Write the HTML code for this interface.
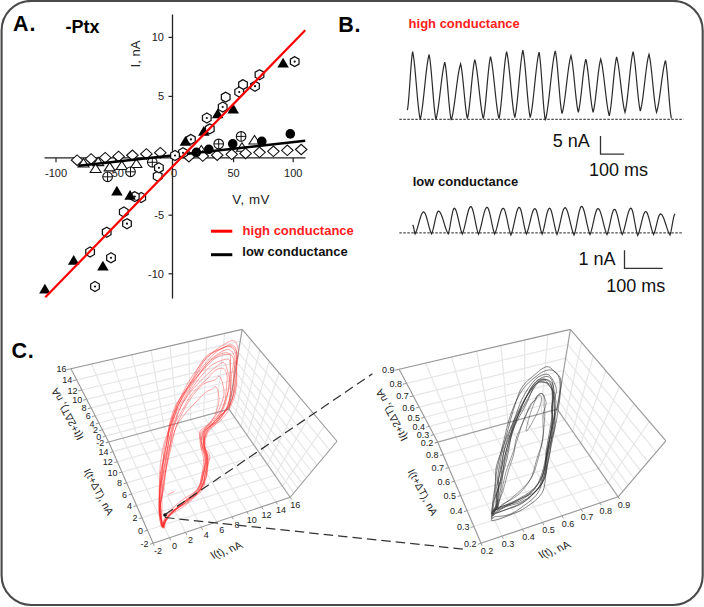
<!DOCTYPE html>
<html><head><meta charset="utf-8"><style>
html,body{margin:0;padding:0;background:#fff;}
svg{display:block;font-family:"Liberation Sans", sans-serif;}
</style></head><body>
<svg width="704" height="607" viewBox="0 0 704 607">
<rect x="1.6" y="0.9" width="701.1" height="604.1" rx="29.5" ry="29.5" fill="#fff" stroke="#4a4a4a" stroke-width="2.1"/>
<text x="13.1" y="30.8" font-size="21.5" font-weight="bold" letter-spacing="0.8">A.</text>
<text x="65.5" y="32.5" font-size="18" font-weight="bold">-Ptx</text>
<line x1="172.5" y1="14.5" x2="172.5" y2="298.5" stroke="#222" stroke-width="1.3"/>
<line x1="44.5" y1="157.9" x2="305.5" y2="157.9" stroke="#222" stroke-width="1.3"/>
<line x1="168.5" y1="37.4" x2="172.5" y2="37.4" stroke="#222" stroke-width="1.2"/>
<text x="164" y="41.199999999999996" font-size="11" text-anchor="end" fill="#222">10</text>
<line x1="168.5" y1="96.4" x2="172.5" y2="96.4" stroke="#222" stroke-width="1.2"/>
<text x="164" y="100.2" font-size="11" text-anchor="end" fill="#222">5</text>
<line x1="168.5" y1="215.2" x2="172.5" y2="215.2" stroke="#222" stroke-width="1.2"/>
<text x="164" y="219.0" font-size="11" text-anchor="end" fill="#222">-5</text>
<line x1="168.5" y1="273.8" x2="172.5" y2="273.8" stroke="#222" stroke-width="1.2"/>
<text x="164" y="277.6" font-size="11" text-anchor="end" fill="#222">-10</text>
<line x1="56" y1="157.9" x2="56" y2="162.2" stroke="#222" stroke-width="1.2"/>
<line x1="115.5" y1="157.9" x2="115.5" y2="162.2" stroke="#222" stroke-width="1.2"/>
<line x1="233.6" y1="157.9" x2="233.6" y2="162.2" stroke="#222" stroke-width="1.2"/>
<line x1="293.2" y1="157.9" x2="293.2" y2="162.2" stroke="#222" stroke-width="1.2"/>
<text x="56" y="177" font-size="11" text-anchor="middle" fill="#222">-100</text>
<text x="116" y="177" font-size="11" text-anchor="middle" fill="#222">-50</text>
<text x="174" y="177" font-size="11" text-anchor="middle" fill="#222">0</text>
<text x="233.6" y="177" font-size="11" text-anchor="middle" fill="#222">50</text>
<text x="293.2" y="177" font-size="11" text-anchor="middle" fill="#222">100</text>
<text transform="translate(140,54) rotate(-90)" font-size="13" text-anchor="middle" fill="#222">I, nA</text>
<text x="232.3" y="203.8" font-size="13.3" letter-spacing="0.55" fill="#222">V, mV</text>
<polygon points="71.35,160.20 77.10,154.95 82.85,160.20 77.10,165.45" fill="#fff" stroke="#111" stroke-width="1.1"/>
<polygon points="85.35,158.94 91.10,153.69 96.85,158.94 91.10,164.19" fill="#fff" stroke="#111" stroke-width="1.1"/>
<polygon points="99.45,157.67 105.20,152.42 110.95,157.67 105.20,162.92" fill="#fff" stroke="#111" stroke-width="1.1"/>
<polygon points="112.85,156.46 118.60,151.21 124.35,156.46 118.60,161.71" fill="#fff" stroke="#111" stroke-width="1.1"/>
<polygon points="126.65,155.22 132.40,149.97 138.15,155.22 132.40,160.47" fill="#fff" stroke="#111" stroke-width="1.1"/>
<polygon points="140.65,153.96 146.40,148.71 152.15,153.96 146.40,159.21" fill="#fff" stroke="#111" stroke-width="1.1"/>
<polygon points="154.55,152.71 160.30,147.46 166.05,152.71 160.30,157.96" fill="#fff" stroke="#111" stroke-width="1.1"/>
<polygon points="78.00,167.05 89.00,167.05 83.50,158.55" fill="#fff" stroke="#111" stroke-width="1.1"/>
<polygon points="92.70,165.65 103.70,165.65 98.20,157.15" fill="#fff" stroke="#111" stroke-width="1.1"/>
<polygon points="90.10,172.55 101.10,172.55 95.60,164.05" fill="#fff" stroke="#111" stroke-width="1.1"/>
<polygon points="104.20,170.85 115.20,170.85 109.70,162.35" fill="#fff" stroke="#111" stroke-width="1.1"/>
<polygon points="116.30,169.55 127.30,169.55 121.80,161.05" fill="#fff" stroke="#111" stroke-width="1.1"/>
<polygon points="130.90,167.45 141.90,167.45 136.40,158.95" fill="#fff" stroke="#111" stroke-width="1.1"/>
<polygon points="195.80,154.05 206.80,154.05 201.30,145.55" fill="#fff" stroke="#111" stroke-width="1.1"/>
<polygon points="249.00,144.05 260.00,144.05 254.50,135.55" fill="#fff" stroke="#111" stroke-width="1.1"/>
<polygon points="236.50,151.25 247.50,151.25 242.00,142.75" fill="#fff" stroke="#111" stroke-width="1.1"/>
<polygon points="183.15,156.70 188.90,151.45 194.65,156.70 188.90,161.95" fill="#fff" stroke="#111" stroke-width="1.1"/>
<polygon points="197.05,156.10 202.80,150.85 208.55,156.10 202.80,161.35" fill="#fff" stroke="#111" stroke-width="1.1"/>
<polygon points="211.45,155.20 217.20,149.95 222.95,155.20 217.20,160.45" fill="#fff" stroke="#111" stroke-width="1.1"/>
<polygon points="225.95,154.30 231.70,149.05 237.45,154.30 231.70,159.55" fill="#fff" stroke="#111" stroke-width="1.1"/>
<polygon points="239.85,153.40 245.60,148.15 251.35,153.40 245.60,158.65" fill="#fff" stroke="#111" stroke-width="1.1"/>
<polygon points="253.75,152.30 259.50,147.05 265.25,152.30 259.50,157.55" fill="#fff" stroke="#111" stroke-width="1.1"/>
<polygon points="267.65,151.30 273.40,146.05 279.15,151.30 273.40,156.55" fill="#fff" stroke="#111" stroke-width="1.1"/>
<polygon points="281.55,150.30 287.30,145.05 293.05,150.30 287.30,155.55" fill="#fff" stroke="#111" stroke-width="1.1"/>
<polygon points="295.45,149.50 301.20,144.25 306.95,149.50 301.20,154.75" fill="#fff" stroke="#111" stroke-width="1.1"/>
<circle cx="107.6" cy="176.8" r="4.8" fill="#fff" stroke="#111" stroke-width="1.1"/><line x1="102.8" y1="176.8" x2="112.39999999999999" y2="176.8" stroke="#111" stroke-width="1"/><line x1="107.6" y1="172.0" x2="107.6" y2="181.60000000000002" stroke="#111" stroke-width="1"/>
<circle cx="130.5" cy="171.8" r="4.8" fill="#fff" stroke="#111" stroke-width="1.1"/><line x1="125.7" y1="171.8" x2="135.3" y2="171.8" stroke="#111" stroke-width="1"/><line x1="130.5" y1="167.0" x2="130.5" y2="176.60000000000002" stroke="#111" stroke-width="1"/>
<circle cx="152.3" cy="162.3" r="4.8" fill="#fff" stroke="#111" stroke-width="1.1"/><line x1="147.5" y1="162.3" x2="157.10000000000002" y2="162.3" stroke="#111" stroke-width="1"/><line x1="152.3" y1="157.5" x2="152.3" y2="167.10000000000002" stroke="#111" stroke-width="1"/>
<circle cx="218.7" cy="143.9" r="4.8" fill="#fff" stroke="#111" stroke-width="1.1"/><line x1="213.89999999999998" y1="143.9" x2="223.5" y2="143.9" stroke="#111" stroke-width="1"/><line x1="218.7" y1="139.1" x2="218.7" y2="148.70000000000002" stroke="#111" stroke-width="1"/>
<circle cx="241.1" cy="136.4" r="4.8" fill="#fff" stroke="#111" stroke-width="1.1"/><line x1="236.29999999999998" y1="136.4" x2="245.9" y2="136.4" stroke="#111" stroke-width="1"/><line x1="241.1" y1="131.6" x2="241.1" y2="141.20000000000002" stroke="#111" stroke-width="1"/>
<circle cx="196.4" cy="152.3" r="4.8" fill="#000"/>
<circle cx="208.8" cy="149.3" r="4.8" fill="#000"/>
<circle cx="232.7" cy="143.9" r="4.8" fill="#000"/>
<circle cx="261.8" cy="141.4" r="4.8" fill="#000"/>
<circle cx="290.3" cy="133.9" r="4.8" fill="#000"/>
<line x1="78.8" y1="165.8" x2="305.2" y2="140.8" stroke="#000" stroke-width="2.4"/>
<polygon points="259.50,69.70 255.17,72.20 255.17,77.20 259.50,79.70 263.83,77.20 263.83,72.20" fill="#fff" stroke="#111" stroke-width="1.25"/>
<polygon points="243.00,79.60 238.67,82.10 238.67,87.10 243.00,89.60 247.33,87.10 247.33,82.10" fill="#fff" stroke="#111" stroke-width="1.25"/>
<polygon points="225.70,92.10 221.37,94.60 221.37,99.60 225.70,102.10 230.03,99.60 230.03,94.60" fill="#fff" stroke="#111" stroke-width="1.25"/>
<polygon points="209.80,123.90 205.47,126.40 205.47,131.40 209.80,133.90 214.13,131.40 214.13,126.40" fill="#fff" stroke="#111" stroke-width="1.25"/>
<polygon points="157.70,171.20 153.37,173.70 153.37,178.70 157.70,181.20 162.03,178.70 162.03,173.70" fill="#fff" stroke="#111" stroke-width="1.25"/>
<polygon points="141.20,192.50 136.87,195.00 136.87,200.00 141.20,202.50 145.53,200.00 145.53,195.00" fill="#fff" stroke="#111" stroke-width="1.25"/>
<polygon points="123.80,207.00 119.47,209.50 119.47,214.50 123.80,217.00 128.13,214.50 128.13,209.50" fill="#fff" stroke="#111" stroke-width="1.25"/>
<polygon points="106.70,227.20 102.37,229.70 102.37,234.70 106.70,237.20 111.03,234.70 111.03,229.70" fill="#fff" stroke="#111" stroke-width="1.25"/>
<polygon points="90.10,247.00 85.77,249.50 85.77,254.50 90.10,257.00 94.43,254.50 94.43,249.50" fill="#fff" stroke="#111" stroke-width="1.25"/>
<polygon points="294.70,56.60 290.37,59.10 290.37,64.10 294.70,66.60 299.03,64.10 299.03,59.10" fill="#fff" stroke="#111" stroke-width="1.25"/><circle cx="294.7" cy="61.6" r="1.1" fill="#111"/>
<polygon points="255.00,81.20 250.67,83.70 250.67,88.70 255.00,91.20 259.33,88.70 259.33,83.70" fill="#fff" stroke="#111" stroke-width="1.25"/><circle cx="255" cy="86.2" r="1.1" fill="#111"/>
<polygon points="239.20,87.00 234.87,89.50 234.87,94.50 239.20,97.00 243.53,94.50 243.53,89.50" fill="#fff" stroke="#111" stroke-width="1.25"/><circle cx="239.2" cy="92" r="1.1" fill="#111"/>
<polygon points="222.70,102.00 218.37,104.50 218.37,109.50 222.70,112.00 227.03,109.50 227.03,104.50" fill="#fff" stroke="#111" stroke-width="1.25"/><circle cx="222.7" cy="107" r="1.1" fill="#111"/>
<polygon points="206.80,113.00 202.47,115.50 202.47,120.50 206.80,123.00 211.13,120.50 211.13,115.50" fill="#fff" stroke="#111" stroke-width="1.25"/><circle cx="206.8" cy="118" r="1.1" fill="#111"/>
<polygon points="190.90,134.40 186.57,136.90 186.57,141.90 190.90,144.40 195.23,141.90 195.23,136.90" fill="#fff" stroke="#111" stroke-width="1.25"/><circle cx="190.9" cy="139.4" r="1.1" fill="#111"/>
<polygon points="183.00,147.80 178.67,150.30 178.67,155.30 183.00,157.80 187.33,155.30 187.33,150.30" fill="#fff" stroke="#111" stroke-width="1.25"/><circle cx="183" cy="152.8" r="1.1" fill="#111"/>
<polygon points="175.00,150.50 170.67,153.00 170.67,158.00 175.00,160.50 179.33,158.00 179.33,153.00" fill="#fff" stroke="#111" stroke-width="1.25"/><circle cx="175" cy="155.5" r="1.1" fill="#111"/>
<polygon points="158.90,162.80 154.57,165.30 154.57,170.30 158.90,172.80 163.23,170.30 163.23,165.30" fill="#fff" stroke="#111" stroke-width="1.25"/><circle cx="158.9" cy="167.8" r="1.1" fill="#111"/>
<polygon points="134.80,191.60 130.47,194.10 130.47,199.10 134.80,201.60 139.13,199.10 139.13,194.10" fill="#fff" stroke="#111" stroke-width="1.25"/><circle cx="134.8" cy="196.6" r="1.1" fill="#111"/>
<polygon points="127.00,218.70 122.67,221.20 122.67,226.20 127.00,228.70 131.33,226.20 131.33,221.20" fill="#fff" stroke="#111" stroke-width="1.25"/><circle cx="127" cy="223.7" r="1.1" fill="#111"/>
<polygon points="111.00,252.80 106.67,255.30 106.67,260.30 111.00,262.80 115.33,260.30 115.33,255.30" fill="#fff" stroke="#111" stroke-width="1.25"/><circle cx="111" cy="257.8" r="1.1" fill="#111"/>
<polygon points="95.00,281.50 90.67,284.00 90.67,289.00 95.00,291.50 99.33,289.00 99.33,284.00" fill="#fff" stroke="#111" stroke-width="1.25"/><circle cx="95" cy="286.5" r="1.1" fill="#111"/>
<polygon points="277.35,67.50 288.85,67.50 283.10,57.70" fill="#000"/>
<polygon points="227.45,113.40 238.95,113.40 233.20,103.60" fill="#000"/>
<polygon points="211.95,118.30 223.45,118.30 217.70,108.50" fill="#000"/>
<polygon points="198.05,135.80 209.55,135.80 203.80,126.00" fill="#000"/>
<polygon points="179.65,145.80 191.15,145.80 185.40,136.00" fill="#000"/>
<polygon points="111.15,195.60 122.65,195.60 116.90,185.80" fill="#000"/>
<polygon points="124.35,199.80 135.85,199.80 130.10,190.00" fill="#000"/>
<polygon points="67.95,264.80 79.45,264.80 73.70,255.00" fill="#000"/>
<polygon points="97.15,270.60 108.65,270.60 102.90,260.80" fill="#000"/>
<polygon points="39.15,293.60 50.65,293.60 44.90,283.80" fill="#000"/>
<line x1="45.3" y1="297.2" x2="305.2" y2="30.3" stroke="#ff0000" stroke-width="2.2"/>
<line x1="211" y1="231.2" x2="232.3" y2="231.2" stroke="#ff0000" stroke-width="3"/>
<text x="242.6" y="235.2" font-size="13" font-weight="bold" fill="#ff2020">high conductance</text>
<line x1="211" y1="254.7" x2="232.3" y2="254.7" stroke="#000" stroke-width="3"/>
<text x="242.3" y="256.3" font-size="13" font-weight="bold" fill="#111">low conductance</text>
<text x="338.2" y="31.8" font-size="21.5" font-weight="bold" letter-spacing="0.8">B.</text>
<text x="408.6" y="28.4" font-size="13" font-weight="bold" fill="#ff2020">high conductance</text>
<text x="412.7" y="186.4" font-size="13" font-weight="bold" fill="#111">low conductance</text>
<line x1="399.3" y1="119.3" x2="683.5" y2="119.3" stroke="#222" stroke-width="1" stroke-dasharray="2.5,1.5"/>
<path d="M407.40,110.20 L407.92,106.77 L408.44,101.85 L408.96,95.65 L409.48,88.52 L410.00,80.90 L410.52,73.28 L411.04,66.15 L411.56,59.95 L412.08,55.03 L412.60,51.60 L413.11,54.04 L413.61,57.27 L414.12,61.25 L414.63,65.88 L415.13,71.06 L415.64,76.65 L416.15,82.49 L416.65,88.41 L417.16,94.25 L417.67,99.84 L418.17,105.02 L418.68,109.65 L419.19,113.63 L419.69,116.86 L420.20,119.30 L420.72,117.28 L421.25,114.67 L421.77,111.48 L422.29,107.79 L422.82,103.64 L423.34,99.13 L423.86,94.35 L424.39,89.40 L424.91,84.40 L425.44,79.45 L425.96,74.67 L426.48,70.16 L427.01,66.01 L427.53,62.32 L428.05,59.13 L428.58,56.52 L429.10,54.50 L429.62,57.26 L430.15,61.03 L430.67,65.71 L431.19,71.17 L431.72,77.22 L432.24,83.63 L432.76,90.17 L433.28,96.58 L433.81,102.63 L434.33,108.09 L434.85,112.77 L435.38,116.54 L435.90,119.30 L436.42,117.52 L436.95,115.22 L437.47,112.41 L437.99,109.16 L438.52,105.50 L439.04,101.53 L439.56,97.31 L440.09,92.95 L440.61,88.55 L441.14,84.19 L441.66,79.97 L442.18,76.00 L442.71,72.34 L443.23,69.09 L443.75,66.28 L444.28,63.98 L444.80,62.20 L445.33,64.91 L445.87,68.68 L446.40,73.38 L446.93,78.85 L447.47,84.86 L448.00,91.15 L448.53,97.44 L449.07,103.45 L449.60,108.92 L450.13,113.62 L450.67,117.39 L451.20,120.10 L451.72,118.46 L452.24,116.36 L452.77,113.81 L453.29,110.86 L453.81,107.55 L454.33,103.94 L454.86,100.10 L455.38,96.09 L455.90,92.00 L456.42,87.91 L456.94,83.90 L457.47,80.06 L457.99,76.45 L458.51,73.14 L459.03,70.19 L459.56,67.64 L460.08,65.54 L460.60,63.90 L461.12,66.23 L461.65,69.42 L462.17,73.38 L462.69,78.00 L463.22,83.11 L463.74,88.54 L464.26,94.06 L464.78,99.49 L465.31,104.60 L465.83,109.22 L466.35,113.18 L466.88,116.37 L467.40,118.70 L467.93,116.39 L468.46,113.29 L468.99,109.46 L469.51,104.98 L470.04,100.00 L470.57,94.67 L471.10,89.15 L471.63,83.63 L472.16,78.30 L472.69,73.32 L473.21,68.84 L473.74,65.01 L474.27,61.91 L474.80,59.60 L475.30,61.44 L475.80,63.83 L476.30,66.73 L476.80,70.10 L477.30,73.88 L477.80,77.99 L478.30,82.36 L478.80,86.87 L479.30,91.43 L479.80,95.94 L480.30,100.31 L480.80,104.42 L481.30,108.20 L481.80,111.57 L482.30,114.47 L482.80,116.86 L483.30,118.70 L483.81,116.28 L484.33,113.03 L484.84,109.00 L485.36,104.31 L485.87,99.08 L486.39,93.49 L486.90,87.70 L487.41,81.91 L487.93,76.32 L488.44,71.09 L488.96,66.40 L489.47,62.37 L489.99,59.12 L490.50,56.70 L491.00,58.63 L491.50,61.13 L492.00,64.18 L492.50,67.71 L493.00,71.68 L493.50,76.00 L494.00,80.57 L494.50,85.31 L495.00,90.09 L495.50,94.83 L496.00,99.40 L496.50,103.72 L497.00,107.69 L497.50,111.22 L498.00,114.27 L498.50,116.77 L499.00,118.70 L499.51,116.28 L500.01,113.08 L500.52,109.14 L501.03,104.54 L501.53,99.41 L502.04,93.87 L502.55,88.09 L503.05,82.21 L503.56,76.43 L504.07,70.89 L504.57,65.76 L505.08,61.16 L505.59,57.22 L506.09,54.02 L506.60,51.60 L507.11,53.81 L507.62,56.70 L508.14,60.24 L508.65,64.36 L509.16,68.97 L509.68,73.98 L510.19,79.24 L510.70,84.65 L511.21,90.06 L511.72,95.32 L512.24,100.33 L512.75,104.94 L513.26,109.06 L513.77,112.60 L514.29,115.49 L514.80,117.70 L515.31,115.44 L515.81,112.49 L516.32,108.88 L516.82,104.67 L517.33,99.96 L517.84,94.85 L518.34,89.47 L518.85,83.95 L519.36,78.43 L519.86,73.05 L520.37,67.94 L520.88,63.23 L521.38,59.02 L521.89,55.41 L522.39,52.46 L522.90,50.20 L523.42,52.84 L523.94,56.38 L524.46,60.76 L524.99,65.87 L525.51,71.56 L526.03,77.65 L526.55,83.95 L527.07,90.25 L527.59,96.34 L528.11,102.03 L528.64,107.14 L529.16,111.52 L529.68,115.06 L530.20,117.70 L530.72,115.66 L531.25,113.01 L531.77,109.79 L532.29,106.05 L532.82,101.85 L533.34,97.28 L533.86,92.44 L534.39,87.43 L534.91,82.37 L535.44,77.36 L535.96,72.52 L536.48,67.95 L537.01,63.75 L537.53,60.01 L538.05,56.79 L538.58,54.14 L539.10,52.10 L539.62,55.30 L540.13,59.74 L540.65,65.29 L541.17,71.74 L541.68,78.83 L542.20,86.25 L542.72,93.67 L543.23,100.76 L543.75,107.21 L544.27,112.76 L544.78,117.20 L545.30,120.40 L545.80,118.60 L546.30,116.33 L546.80,113.62 L547.30,110.48 L547.80,106.96 L548.30,103.11 L548.80,98.99 L549.30,94.65 L549.80,90.16 L550.30,85.60 L550.80,81.04 L551.30,76.55 L551.80,72.21 L552.30,68.09 L552.80,64.24 L553.30,60.72 L553.80,57.58 L554.30,54.87 L554.80,52.60 L555.30,50.80 L555.82,53.48 L556.33,57.14 L556.85,61.68 L557.36,66.98 L557.88,72.85 L558.39,79.08 L558.91,85.42 L559.42,91.65 L559.94,97.52 L560.45,102.82 L560.97,107.36 L561.48,111.02 L562.00,113.70 L562.50,112.00 L563.00,109.83 L563.50,107.20 L564.00,104.15 L564.50,100.73 L565.00,97.00 L565.50,93.02 L566.00,88.88 L566.50,84.65 L567.00,80.42 L567.50,76.28 L568.00,72.30 L568.50,68.57 L569.00,65.15 L569.50,62.10 L570.00,59.47 L570.50,57.30 L571.00,55.60 L571.52,57.81 L572.04,60.79 L572.56,64.47 L573.09,68.76 L573.61,73.54 L574.13,78.66 L574.65,83.95 L575.17,89.24 L575.69,94.36 L576.21,99.14 L576.74,103.43 L577.26,107.11 L577.78,110.09 L578.30,112.30 L578.80,110.38 L579.30,107.84 L579.80,104.72 L580.30,101.08 L580.80,97.00 L581.30,92.61 L581.80,88.03 L582.30,83.37 L582.80,78.79 L583.30,74.40 L583.80,70.32 L584.30,66.68 L584.80,63.56 L585.30,61.02 L585.80,59.10 L586.32,61.18 L586.84,63.97 L587.36,67.42 L587.89,71.45 L588.41,75.93 L588.93,80.73 L589.45,85.70 L589.97,90.67 L590.49,95.47 L591.01,99.95 L591.54,103.98 L592.06,107.43 L592.58,110.22 L593.10,112.30 L593.61,110.38 L594.11,107.84 L594.62,104.72 L595.13,101.08 L595.63,97.00 L596.14,92.61 L596.65,88.03 L597.15,83.37 L597.66,78.79 L598.17,74.40 L598.67,70.32 L599.18,66.68 L599.69,63.56 L600.19,61.02 L600.70,59.10 L601.21,60.87 L601.71,63.15 L602.22,65.94 L602.72,69.17 L603.23,72.80 L603.74,76.75 L604.24,80.93 L604.75,85.26 L605.25,89.64 L605.76,93.97 L606.26,98.15 L606.77,102.10 L607.28,105.73 L607.78,108.96 L608.29,111.75 L608.79,114.03 L609.30,115.80 L609.82,113.50 L610.34,110.42 L610.86,106.60 L611.39,102.15 L611.91,97.20 L612.43,91.89 L612.95,86.40 L613.47,80.91 L613.99,75.60 L614.51,70.65 L615.04,66.20 L615.56,62.38 L616.08,59.30 L616.60,57.00 L617.12,58.85 L617.65,61.27 L618.18,64.23 L618.70,67.68 L619.23,71.54 L619.75,75.72 L620.27,80.13 L620.80,84.65 L621.33,89.17 L621.85,93.58 L622.38,97.76 L622.90,101.62 L623.42,105.07 L623.95,108.03 L624.48,110.45 L625.00,112.30 L625.51,110.27 L626.01,107.61 L626.52,104.37 L627.02,100.58 L627.53,96.35 L628.04,91.75 L628.54,86.91 L629.05,81.95 L629.56,76.99 L630.06,72.15 L630.57,67.55 L631.08,63.32 L631.58,59.53 L632.09,56.29 L632.59,53.63 L633.10,51.60 L633.61,53.92 L634.13,57.04 L634.64,60.89 L635.16,65.39 L635.67,70.39 L636.19,75.76 L636.70,81.30 L637.21,86.84 L637.73,92.21 L638.24,97.21 L638.76,101.71 L639.27,105.56 L639.79,108.68 L640.30,111.00 L640.81,109.23 L641.32,106.95 L641.84,104.16 L642.35,100.93 L642.86,97.30 L643.37,93.35 L643.88,89.17 L644.39,84.84 L644.91,80.46 L645.42,76.13 L645.93,71.95 L646.44,68.00 L646.95,64.37 L647.46,61.14 L647.98,58.35 L648.49,56.07 L649.00,54.30 L649.50,56.39 L650.00,59.16 L650.50,62.57 L651.00,66.54 L651.50,70.97 L652.00,75.76 L652.50,80.76 L653.00,85.84 L653.50,90.84 L654.00,95.62 L654.50,100.06 L655.00,104.03 L655.50,107.44 L656.00,110.21 L656.50,112.30 L657.00,110.79 L657.50,108.85 L658.00,106.51 L658.50,103.79 L659.00,100.74 L659.50,97.41 L660.00,93.86 L660.50,90.17 L661.00,86.40 L661.50,82.63 L662.00,78.94 L662.50,75.39 L663.00,72.06 L663.50,69.01 L664.00,66.29 L664.50,63.95 L665.00,62.01 L665.50,60.50 L666.04,63.52 L666.57,67.78 L667.11,73.12 L667.65,79.32 L668.18,86.04 L668.72,92.96 L669.25,99.68 L669.79,105.88 L670.33,111.22 L670.86,115.48 L671.40,118.50" fill="none" stroke="#2a2a2a" stroke-width="1.2"/>
<line x1="399.3" y1="232.9" x2="682" y2="232.9" stroke="#222" stroke-width="1" stroke-dasharray="2.5,1.5"/>
<path d="M412.60,224.80 L413.10,225.50 L413.60,227.38 L414.10,229.87 L414.60,232.25 L415.10,233.90 L415.60,232.98 L416.10,231.85 L416.60,230.52 L417.10,229.02 L417.60,227.38 L418.10,225.65 L418.60,223.85 L419.10,222.03 L419.60,220.25 L420.10,218.54 L420.60,216.95 L421.10,215.53 L421.60,214.31 L422.10,213.32 L422.60,212.59 L423.10,212.15 L423.60,212.00 L424.10,212.17 L424.60,212.67 L425.10,213.48 L425.60,214.59 L426.10,215.95 L426.60,217.53 L427.10,219.28 L427.60,221.14 L428.10,223.05 L428.60,224.98 L429.10,226.85 L429.60,228.62 L430.10,230.25 L430.60,231.69 L431.10,232.92 L431.60,233.90 L432.13,232.61 L432.66,230.95 L433.19,228.97 L433.72,226.74 L434.25,224.35 L434.78,221.89 L435.32,219.47 L435.85,217.20 L436.38,215.18 L436.91,213.50 L437.44,212.24 L437.97,211.46 L438.50,211.20 L439.01,211.32 L439.52,211.69 L440.03,212.30 L440.54,213.13 L441.05,214.16 L441.56,215.38 L442.07,216.75 L442.58,218.25 L443.09,219.85 L443.61,221.50 L444.12,223.18 L444.63,224.86 L445.14,226.49 L445.65,228.05 L446.16,229.52 L446.67,230.85 L447.18,232.04 L447.69,233.06 L448.20,233.90 L448.71,232.30 L449.22,230.22 L449.73,227.73 L450.23,224.94 L450.74,221.97 L451.25,218.98 L451.76,216.11 L452.27,213.51 L452.77,211.33 L453.28,209.68 L453.79,208.65 L454.30,208.30 L454.80,208.50 L455.30,209.08 L455.80,210.04 L456.30,211.33 L456.80,212.92 L457.30,214.77 L457.80,216.81 L458.30,218.98 L458.80,221.22 L459.30,223.47 L459.80,225.66 L460.30,227.73 L460.80,229.63 L461.30,231.32 L461.80,232.75 L462.30,233.90 L462.80,232.75 L463.30,231.34 L463.80,229.68 L464.30,227.82 L464.80,225.78 L465.30,223.61 L465.80,221.37 L466.30,219.11 L466.80,216.88 L467.30,214.75 L467.80,212.78 L468.30,211.00 L468.80,209.47 L469.30,208.24 L469.80,207.34 L470.30,206.79 L470.80,206.60 L471.31,206.84 L471.83,207.56 L472.34,208.72 L472.85,210.29 L473.37,212.22 L473.88,214.43 L474.39,216.85 L474.91,219.40 L475.42,221.99 L475.93,224.54 L476.45,226.97 L476.96,229.21 L477.47,231.19 L477.99,232.87 L478.50,234.20 L479.00,233.07 L479.50,231.68 L480.00,230.05 L480.50,228.21 L481.00,226.20 L481.50,224.06 L482.00,221.85 L482.50,219.63 L483.00,217.43 L483.50,215.33 L484.00,213.38 L484.50,211.63 L485.00,210.13 L485.50,208.92 L486.00,208.03 L486.50,207.48 L487.00,207.30 L487.51,207.53 L488.03,208.22 L488.54,209.34 L489.05,210.86 L489.57,212.72 L490.08,214.85 L490.59,217.18 L491.11,219.63 L491.62,222.13 L492.13,224.59 L492.65,226.93 L493.16,229.09 L493.67,231.00 L494.19,232.61 L494.70,233.90 L495.20,232.82 L495.70,231.50 L496.20,229.95 L496.70,228.20 L497.20,226.28 L497.70,224.25 L498.20,222.15 L498.70,220.03 L499.20,217.94 L499.70,215.95 L500.20,214.09 L500.70,212.43 L501.20,211.00 L501.70,209.84 L502.20,208.99 L502.70,208.47 L503.20,208.30 L503.71,208.53 L504.23,209.23 L504.74,210.35 L505.25,211.87 L505.77,213.74 L506.28,215.87 L506.79,218.22 L507.31,220.68 L507.82,223.19 L508.33,225.66 L508.85,228.01 L509.36,230.17 L509.87,232.09 L510.39,233.71 L510.90,235.00 L511.42,233.76 L511.94,232.22 L512.46,230.40 L512.98,228.35 L513.49,226.12 L514.01,223.76 L514.53,221.33 L515.05,218.91 L515.57,216.57 L516.09,214.37 L516.61,212.38 L517.12,210.67 L517.64,209.27 L518.16,208.24 L518.68,207.61 L519.20,207.40 L519.71,207.67 L520.23,208.46 L520.74,209.74 L521.26,211.46 L521.77,213.55 L522.29,215.93 L522.80,218.50 L523.31,221.16 L523.83,223.82 L524.34,226.38 L524.86,228.74 L525.37,230.84 L525.89,232.61 L526.40,234.00 L526.90,232.93 L527.40,231.62 L527.90,230.08 L528.40,228.34 L528.90,226.44 L529.40,224.43 L529.90,222.34 L530.40,220.24 L530.90,218.17 L531.40,216.19 L531.90,214.35 L532.40,212.69 L532.90,211.27 L533.40,210.13 L533.90,209.29 L534.40,208.77 L534.90,208.60 L535.41,208.85 L535.93,209.61 L536.44,210.83 L536.96,212.48 L537.47,214.47 L537.99,216.74 L538.50,219.20 L539.01,221.74 L539.53,224.28 L540.04,226.72 L540.56,228.98 L541.07,230.98 L541.59,232.67 L542.10,234.00 L542.63,232.65 L543.16,230.94 L543.69,228.90 L544.21,226.61 L544.74,224.13 L545.27,221.55 L545.80,218.96 L546.33,216.47 L546.86,214.16 L547.39,212.14 L547.91,210.47 L548.44,209.23 L548.97,208.46 L549.50,208.20 L550.00,208.43 L550.50,209.11 L551.00,210.21 L551.50,211.69 L552.00,213.51 L552.50,215.60 L553.00,217.89 L553.50,220.30 L554.00,222.75 L554.50,225.16 L555.00,227.46 L555.50,229.58 L556.00,231.45 L556.50,233.04 L557.00,234.30 L557.50,233.10 L558.00,231.62 L558.50,229.87 L559.00,227.89 L559.50,225.74 L560.00,223.46 L560.50,221.13 L561.00,218.80 L561.50,216.54 L562.00,214.42 L562.50,212.50 L563.00,210.85 L563.50,209.50 L564.00,208.51 L564.50,207.90 L565.00,207.70 L565.50,207.87 L566.00,208.36 L566.50,209.17 L567.00,210.27 L567.50,211.65 L568.00,213.26 L568.50,215.06 L569.00,217.02 L569.50,219.09 L570.00,221.21 L570.50,223.35 L571.00,225.44 L571.50,227.46 L572.00,229.35 L572.50,231.08 L573.00,232.61 L573.50,233.92 L574.00,235.00 L574.51,233.62 L575.01,231.88 L575.52,229.83 L576.03,227.51 L576.53,224.99 L577.04,222.35 L577.55,219.66 L578.05,217.02 L578.56,214.51 L579.07,212.22 L579.57,210.23 L580.08,208.60 L580.59,207.39 L581.09,206.65 L581.60,206.40 L582.12,206.62 L582.65,207.26 L583.18,208.30 L583.70,209.72 L584.23,211.47 L584.75,213.50 L585.27,215.74 L585.80,218.12 L586.33,220.58 L586.85,223.05 L587.38,225.45 L587.90,227.73 L588.42,229.82 L588.95,231.67 L589.48,233.24 L590.00,234.50 L590.50,233.34 L591.00,231.89 L591.50,230.18 L592.00,228.26 L592.50,226.16 L593.00,223.95 L593.50,221.67 L594.00,219.40 L594.50,217.21 L595.00,215.14 L595.50,213.28 L596.00,211.66 L596.50,210.36 L597.00,209.39 L597.50,208.80 L598.00,208.60 L598.50,208.76 L599.00,209.23 L599.50,209.99 L600.00,211.04 L600.50,212.35 L601.00,213.87 L601.50,215.59 L602.00,217.44 L602.50,219.40 L603.00,221.42 L603.50,223.45 L604.00,225.44 L604.50,227.35 L605.00,229.14 L605.50,230.78 L606.00,232.23 L606.50,233.48 L607.00,234.50 L607.50,233.28 L608.00,231.75 L608.50,229.94 L609.00,227.90 L609.50,225.68 L610.00,223.35 L610.50,220.99 L611.00,218.66 L611.50,216.45 L612.00,214.43 L612.50,212.67 L613.00,211.24 L613.50,210.17 L614.00,209.52 L614.50,209.30 L615.02,209.52 L615.54,210.17 L616.06,211.24 L616.58,212.67 L617.10,214.43 L617.62,216.45 L618.14,218.66 L618.66,220.99 L619.18,223.35 L619.70,225.68 L620.22,227.90 L620.74,229.94 L621.26,231.75 L621.78,233.28 L622.30,234.50 L622.81,233.39 L623.31,232.03 L623.82,230.44 L624.32,228.64 L624.83,226.68 L625.34,224.59 L625.84,222.43 L626.35,220.25 L626.85,218.11 L627.36,216.06 L627.86,214.15 L628.37,212.44 L628.88,210.97 L629.38,209.78 L629.89,208.91 L630.39,208.38 L630.90,208.20 L631.42,208.52 L631.95,209.46 L632.47,210.97 L632.99,212.99 L633.52,215.42 L634.04,218.15 L634.56,221.06 L635.08,224.01 L635.61,226.89 L636.13,229.57 L636.65,231.95 L637.18,233.95 L637.70,235.50 L638.20,234.43 L638.70,233.09 L639.20,231.52 L639.70,229.74 L640.20,227.81 L640.70,225.76 L641.20,223.66 L641.70,221.57 L642.20,219.54 L642.70,217.64 L643.20,215.92 L643.70,214.43 L644.20,213.22 L644.70,212.33 L645.20,211.78 L645.70,211.60 L646.23,211.80 L646.75,212.39 L647.28,213.36 L647.81,214.66 L648.33,216.26 L648.86,218.10 L649.39,220.10 L649.91,222.22 L650.44,224.37 L650.97,226.48 L651.49,228.50 L652.02,230.36 L652.55,232.00 L653.07,233.39 L653.60,234.50 L654.13,233.33 L654.66,231.82 L655.19,230.02 L655.72,228.00 L656.25,225.83 L656.78,223.60 L657.32,221.41 L657.85,219.35 L658.38,217.51 L658.91,215.99 L659.44,214.85 L659.97,214.14 L660.50,213.90 L661.00,214.02 L661.50,214.36 L662.00,214.92 L662.50,215.69 L663.00,216.65 L663.50,217.79 L664.00,219.06 L664.50,220.46 L665.00,221.94 L665.50,223.48 L666.00,225.04 L666.50,226.60 L667.00,228.12 L667.50,229.57 L668.00,230.92 L668.50,232.17 L669.00,233.27 L669.50,234.22 L670.00,235.00 L670.52,233.37 L671.04,231.18 L671.56,228.56 L672.08,225.67 L672.60,222.70 L673.12,219.89 L673.64,217.43 L674.16,215.52 L674.68,214.31 L675.20,213.90" fill="none" stroke="#2a2a2a" stroke-width="1.2"/>
<text x="552.8" y="147" font-size="18" fill="#111">5 nA</text>
<path d="M600.5,136 V154.1 H624.1" fill="none" stroke="#333" stroke-width="1.3"/>
<text x="588.9" y="176.2" font-size="18" fill="#111">100 ms</text>
<text x="578.4" y="265" font-size="18" fill="#111">1 nA</text>
<path d="M624.5,250.2 V268.4 H662.7" fill="none" stroke="#333" stroke-width="1.3"/>
<text x="606.2" y="291.8" font-size="18" fill="#111">100 ms</text>
<text x="11.4" y="358" font-size="21.5" font-weight="bold" letter-spacing="0.8">C.</text>
<line x1="122.85" y1="438.09" x2="91.62" y2="363.97" stroke="#e6e6e6" stroke-width="1.15"/>
<line x1="105.65" y1="436.10" x2="230.02" y2="402.51" stroke="#e6e6e6" stroke-width="1.15"/>
<line x1="169.46" y1="537.75" x2="122.85" y2="438.09" stroke="#e6e6e6" stroke-width="1.15"/>
<line x1="147.43" y1="530.20" x2="282.37" y2="486.02" stroke="#e6e6e6" stroke-width="1.15"/>
<line x1="282.37" y1="486.02" x2="324.21" y2="426.13" stroke="#e6e6e6" stroke-width="1.15"/>
<line x1="293.78" y1="492.93" x2="230.02" y2="402.51" stroke="#e6e6e6" stroke-width="1.15"/>
<line x1="136.80" y1="434.27" x2="111.85" y2="359.32" stroke="#e6e6e6" stroke-width="1.15"/>
<line x1="102.41" y1="429.80" x2="231.18" y2="395.52" stroke="#e6e6e6" stroke-width="1.15"/>
<line x1="185.48" y1="532.37" x2="136.80" y2="434.27" stroke="#e6e6e6" stroke-width="1.15"/>
<line x1="141.93" y1="517.68" x2="274.85" y2="475.20" stroke="#e6e6e6" stroke-width="1.15"/>
<line x1="274.85" y1="475.20" x2="312.07" y2="411.81" stroke="#e6e6e6" stroke-width="1.15"/>
<line x1="297.68" y1="488.26" x2="231.18" y2="395.52" stroke="#e6e6e6" stroke-width="1.15"/>
<line x1="150.55" y1="430.51" x2="131.65" y2="354.76" stroke="#e6e6e6" stroke-width="1.15"/>
<line x1="98.93" y1="423.04" x2="232.42" y2="388.04" stroke="#e6e6e6" stroke-width="1.15"/>
<line x1="201.22" y1="527.09" x2="150.55" y2="430.51" stroke="#e6e6e6" stroke-width="1.15"/>
<line x1="136.64" y1="505.64" x2="267.60" y2="464.75" stroke="#e6e6e6" stroke-width="1.15"/>
<line x1="267.60" y1="464.75" x2="300.55" y2="398.21" stroke="#e6e6e6" stroke-width="1.15"/>
<line x1="301.91" y1="483.21" x2="232.42" y2="388.04" stroke="#e6e6e6" stroke-width="1.15"/>
<line x1="164.09" y1="426.80" x2="151.03" y2="350.30" stroke="#e6e6e6" stroke-width="1.15"/>
<line x1="95.17" y1="415.75" x2="233.76" y2="380.02" stroke="#e6e6e6" stroke-width="1.15"/>
<line x1="216.68" y1="521.90" x2="164.09" y2="426.80" stroke="#e6e6e6" stroke-width="1.15"/>
<line x1="131.55" y1="494.04" x2="260.60" y2="454.67" stroke="#e6e6e6" stroke-width="1.15"/>
<line x1="260.60" y1="454.67" x2="289.61" y2="385.30" stroke="#e6e6e6" stroke-width="1.15"/>
<line x1="306.50" y1="477.73" x2="233.76" y2="380.02" stroke="#e6e6e6" stroke-width="1.15"/>
<line x1="177.44" y1="423.15" x2="170.02" y2="345.94" stroke="#e6e6e6" stroke-width="1.15"/>
<line x1="91.11" y1="407.87" x2="235.19" y2="371.40" stroke="#e6e6e6" stroke-width="1.15"/>
<line x1="231.88" y1="516.80" x2="177.44" y2="423.15" stroke="#e6e6e6" stroke-width="1.15"/>
<line x1="126.64" y1="482.87" x2="253.83" y2="444.93" stroke="#e6e6e6" stroke-width="1.15"/>
<line x1="253.83" y1="444.93" x2="279.20" y2="373.02" stroke="#e6e6e6" stroke-width="1.15"/>
<line x1="311.51" y1="471.75" x2="235.19" y2="371.40" stroke="#e6e6e6" stroke-width="1.15"/>
<line x1="190.59" y1="419.55" x2="188.61" y2="341.66" stroke="#e6e6e6" stroke-width="1.15"/>
<line x1="86.71" y1="399.32" x2="236.73" y2="362.11" stroke="#e6e6e6" stroke-width="1.15"/>
<line x1="246.83" y1="511.79" x2="190.59" y2="419.55" stroke="#e6e6e6" stroke-width="1.15"/>
<line x1="121.91" y1="472.09" x2="247.29" y2="435.51" stroke="#e6e6e6" stroke-width="1.15"/>
<line x1="247.29" y1="435.51" x2="269.29" y2="361.32" stroke="#e6e6e6" stroke-width="1.15"/>
<line x1="316.98" y1="465.20" x2="236.73" y2="362.11" stroke="#e6e6e6" stroke-width="1.15"/>
<line x1="203.56" y1="416.00" x2="206.83" y2="337.47" stroke="#e6e6e6" stroke-width="1.15"/>
<line x1="81.92" y1="390.02" x2="238.40" y2="352.07" stroke="#e6e6e6" stroke-width="1.15"/>
<line x1="261.52" y1="506.86" x2="203.56" y2="416.00" stroke="#e6e6e6" stroke-width="1.15"/>
<line x1="117.34" y1="461.70" x2="240.97" y2="426.40" stroke="#e6e6e6" stroke-width="1.15"/>
<line x1="240.97" y1="426.40" x2="259.83" y2="350.16" stroke="#e6e6e6" stroke-width="1.15"/>
<line x1="323.00" y1="458.01" x2="238.40" y2="352.07" stroke="#e6e6e6" stroke-width="1.15"/>
<line x1="216.33" y1="412.51" x2="224.69" y2="333.36" stroke="#e6e6e6" stroke-width="1.15"/>
<line x1="76.69" y1="379.86" x2="240.21" y2="341.18" stroke="#e6e6e6" stroke-width="1.15"/>
<line x1="275.96" y1="502.01" x2="216.33" y2="412.51" stroke="#e6e6e6" stroke-width="1.15"/>
<line x1="112.94" y1="451.66" x2="234.85" y2="417.59" stroke="#e6e6e6" stroke-width="1.15"/>
<line x1="234.85" y1="417.59" x2="250.81" y2="339.51" stroke="#e6e6e6" stroke-width="1.15"/>
<line x1="329.65" y1="450.07" x2="240.21" y2="341.18" stroke="#e6e6e6" stroke-width="1.15"/>
<line x1="108.68" y1="441.97" x2="105.85" y2="442.74" stroke="#969696" stroke-width="1.0"/>
<line x1="153.15" y1="543.22" x2="149.89" y2="544.32" stroke="#969696" stroke-width="1.0"/>
<line x1="153.15" y1="543.22" x2="154.31" y2="545.86" stroke="#969696" stroke-width="1.0"/>
<line x1="105.65" y1="436.10" x2="102.72" y2="436.89" stroke="#969696" stroke-width="1.0"/>
<line x1="147.43" y1="530.20" x2="144.22" y2="531.25" stroke="#969696" stroke-width="1.0"/>
<line x1="169.46" y1="537.75" x2="170.67" y2="540.34" stroke="#969696" stroke-width="1.0"/>
<line x1="102.41" y1="429.80" x2="99.37" y2="430.61" stroke="#969696" stroke-width="1.0"/>
<line x1="141.93" y1="517.68" x2="138.78" y2="518.69" stroke="#969696" stroke-width="1.0"/>
<line x1="185.48" y1="532.37" x2="186.74" y2="534.92" stroke="#969696" stroke-width="1.0"/>
<line x1="98.93" y1="423.04" x2="95.76" y2="423.87" stroke="#969696" stroke-width="1.0"/>
<line x1="136.64" y1="505.64" x2="133.54" y2="506.61" stroke="#969696" stroke-width="1.0"/>
<line x1="201.22" y1="527.09" x2="202.53" y2="529.60" stroke="#969696" stroke-width="1.0"/>
<line x1="95.17" y1="415.75" x2="91.88" y2="416.60" stroke="#969696" stroke-width="1.0"/>
<line x1="131.55" y1="494.04" x2="128.49" y2="494.97" stroke="#969696" stroke-width="1.0"/>
<line x1="216.68" y1="521.90" x2="218.05" y2="524.37" stroke="#969696" stroke-width="1.0"/>
<line x1="91.11" y1="407.87" x2="87.68" y2="408.74" stroke="#969696" stroke-width="1.0"/>
<line x1="126.64" y1="482.87" x2="123.63" y2="483.76" stroke="#969696" stroke-width="1.0"/>
<line x1="231.88" y1="516.80" x2="233.29" y2="519.23" stroke="#969696" stroke-width="1.0"/>
<line x1="86.71" y1="399.32" x2="83.12" y2="400.21" stroke="#969696" stroke-width="1.0"/>
<line x1="121.91" y1="472.09" x2="118.95" y2="472.96" stroke="#969696" stroke-width="1.0"/>
<line x1="246.83" y1="511.79" x2="248.28" y2="514.17" stroke="#969696" stroke-width="1.0"/>
<line x1="81.92" y1="390.02" x2="78.16" y2="390.93" stroke="#969696" stroke-width="1.0"/>
<line x1="117.34" y1="461.70" x2="114.43" y2="462.53" stroke="#969696" stroke-width="1.0"/>
<line x1="261.52" y1="506.86" x2="263.01" y2="509.21" stroke="#969696" stroke-width="1.0"/>
<line x1="76.69" y1="379.86" x2="72.74" y2="380.79" stroke="#969696" stroke-width="1.0"/>
<line x1="112.94" y1="451.66" x2="110.06" y2="452.46" stroke="#969696" stroke-width="1.0"/>
<line x1="275.96" y1="502.01" x2="277.50" y2="504.32" stroke="#969696" stroke-width="1.0"/>
<line x1="70.95" y1="368.72" x2="66.80" y2="369.68" stroke="#969696" stroke-width="1.0"/>
<line x1="108.68" y1="441.97" x2="105.85" y2="442.74" stroke="#969696" stroke-width="1.0"/>
<line x1="290.16" y1="497.25" x2="291.74" y2="499.52" stroke="#969696" stroke-width="1.0"/>
<line x1="70.95" y1="368.72" x2="242.18" y2="329.34" stroke="#969696" stroke-width="1.1"/>
<line x1="70.95" y1="368.72" x2="108.68" y2="441.97" stroke="#969696" stroke-width="1.1"/>
<line x1="108.68" y1="441.97" x2="153.15" y2="543.22" stroke="#969696" stroke-width="1.1"/>
<line x1="153.15" y1="543.22" x2="290.16" y2="497.25" stroke="#969696" stroke-width="1.1"/>
<line x1="290.16" y1="497.25" x2="337.03" y2="441.25" stroke="#969696" stroke-width="1.1"/>
<line x1="337.03" y1="441.25" x2="242.18" y2="329.34" stroke="#969696" stroke-width="1.1"/>
<line x1="108.68" y1="441.97" x2="228.93" y2="409.06" stroke="#a0a0a0" stroke-width="1.2"/>
<line x1="228.93" y1="409.06" x2="290.16" y2="497.25" stroke="#a0a0a0" stroke-width="1.2"/>
<line x1="228.93" y1="409.06" x2="242.18" y2="329.34" stroke="#a0a0a0" stroke-width="1.2"/>
<line x1="455.81" y1="437.17" x2="425.65" y2="363.03" stroke="#e6e6e6" stroke-width="1.15"/>
<line x1="433.75" y1="434.61" x2="558.63" y2="400.68" stroke="#e6e6e6" stroke-width="1.15"/>
<line x1="501.98" y1="536.12" x2="455.81" y2="437.17" stroke="#e6e6e6" stroke-width="1.15"/>
<line x1="473.89" y1="526.50" x2="608.15" y2="482.47" stroke="#e6e6e6" stroke-width="1.15"/>
<line x1="608.15" y1="482.47" x2="649.27" y2="421.47" stroke="#e6e6e6" stroke-width="1.15"/>
<line x1="622.85" y1="491.26" x2="558.63" y2="400.68" stroke="#e6e6e6" stroke-width="1.15"/>
<line x1="473.52" y1="432.27" x2="451.44" y2="357.04" stroke="#e6e6e6" stroke-width="1.15"/>
<line x1="429.37" y1="426.33" x2="560.16" y2="391.46" stroke="#e6e6e6" stroke-width="1.15"/>
<line x1="522.44" y1="529.20" x2="473.52" y2="432.27" stroke="#e6e6e6" stroke-width="1.15"/>
<line x1="467.09" y1="510.65" x2="598.65" y2="468.80" stroke="#e6e6e6" stroke-width="1.15"/>
<line x1="598.65" y1="468.80" x2="633.83" y2="403.44" stroke="#e6e6e6" stroke-width="1.15"/>
<line x1="628.11" y1="485.10" x2="560.16" y2="391.46" stroke="#e6e6e6" stroke-width="1.15"/>
<line x1="490.90" y1="427.47" x2="476.53" y2="351.21" stroke="#e6e6e6" stroke-width="1.15"/>
<line x1="424.55" y1="417.22" x2="561.83" y2="381.38" stroke="#e6e6e6" stroke-width="1.15"/>
<line x1="542.43" y1="522.43" x2="490.90" y2="427.47" stroke="#e6e6e6" stroke-width="1.15"/>
<line x1="460.64" y1="495.58" x2="589.60" y2="455.76" stroke="#e6e6e6" stroke-width="1.15"/>
<line x1="589.60" y1="455.76" x2="619.43" y2="386.63" stroke="#e6e6e6" stroke-width="1.15"/>
<line x1="633.95" y1="478.25" x2="561.83" y2="381.38" stroke="#e6e6e6" stroke-width="1.15"/>
<line x1="507.96" y1="422.76" x2="500.95" y2="345.54" stroke="#e6e6e6" stroke-width="1.15"/>
<line x1="419.21" y1="407.13" x2="563.66" y2="370.30" stroke="#e6e6e6" stroke-width="1.15"/>
<line x1="561.98" y1="515.82" x2="507.96" y2="422.76" stroke="#e6e6e6" stroke-width="1.15"/>
<line x1="454.50" y1="481.25" x2="580.96" y2="443.31" stroke="#e6e6e6" stroke-width="1.15"/>
<line x1="580.96" y1="443.31" x2="605.98" y2="370.92" stroke="#e6e6e6" stroke-width="1.15"/>
<line x1="640.50" y1="470.58" x2="563.66" y2="370.30" stroke="#e6e6e6" stroke-width="1.15"/>
<line x1="524.69" y1="418.13" x2="524.72" y2="340.01" stroke="#e6e6e6" stroke-width="1.15"/>
<line x1="413.27" y1="395.91" x2="565.68" y2="358.08" stroke="#e6e6e6" stroke-width="1.15"/>
<line x1="581.10" y1="509.34" x2="524.69" y2="418.13" stroke="#e6e6e6" stroke-width="1.15"/>
<line x1="448.65" y1="467.60" x2="572.70" y2="431.42" stroke="#e6e6e6" stroke-width="1.15"/>
<line x1="572.70" y1="431.42" x2="593.37" y2="356.20" stroke="#e6e6e6" stroke-width="1.15"/>
<line x1="647.88" y1="461.94" x2="565.68" y2="358.08" stroke="#e6e6e6" stroke-width="1.15"/>
<line x1="541.11" y1="413.59" x2="547.87" y2="334.64" stroke="#e6e6e6" stroke-width="1.15"/>
<line x1="406.63" y1="383.35" x2="567.92" y2="344.52" stroke="#e6e6e6" stroke-width="1.15"/>
<line x1="599.81" y1="503.01" x2="541.11" y2="413.59" stroke="#e6e6e6" stroke-width="1.15"/>
<line x1="443.07" y1="454.59" x2="564.80" y2="420.04" stroke="#e6e6e6" stroke-width="1.15"/>
<line x1="564.80" y1="420.04" x2="581.55" y2="342.39" stroke="#e6e6e6" stroke-width="1.15"/>
<line x1="656.26" y1="452.12" x2="567.92" y2="344.52" stroke="#e6e6e6" stroke-width="1.15"/>
<line x1="437.74" y1="442.16" x2="434.93" y2="442.94" stroke="#969696" stroke-width="1.0"/>
<line x1="481.05" y1="543.21" x2="477.78" y2="544.31" stroke="#969696" stroke-width="1.0"/>
<line x1="481.05" y1="543.21" x2="482.18" y2="545.86" stroke="#969696" stroke-width="1.0"/>
<line x1="433.75" y1="434.61" x2="430.80" y2="435.41" stroke="#969696" stroke-width="1.0"/>
<line x1="473.89" y1="526.50" x2="470.69" y2="527.55" stroke="#969696" stroke-width="1.0"/>
<line x1="501.98" y1="536.12" x2="503.19" y2="538.72" stroke="#969696" stroke-width="1.0"/>
<line x1="429.37" y1="426.33" x2="426.27" y2="427.16" stroke="#969696" stroke-width="1.0"/>
<line x1="467.09" y1="510.65" x2="463.97" y2="511.64" stroke="#969696" stroke-width="1.0"/>
<line x1="522.44" y1="529.20" x2="523.71" y2="531.74" stroke="#969696" stroke-width="1.0"/>
<line x1="424.55" y1="417.22" x2="421.28" y2="418.07" stroke="#969696" stroke-width="1.0"/>
<line x1="460.64" y1="495.58" x2="457.58" y2="496.53" stroke="#969696" stroke-width="1.0"/>
<line x1="542.43" y1="522.43" x2="543.78" y2="524.91" stroke="#969696" stroke-width="1.0"/>
<line x1="419.21" y1="407.13" x2="415.76" y2="408.01" stroke="#969696" stroke-width="1.0"/>
<line x1="454.50" y1="481.25" x2="451.51" y2="482.15" stroke="#969696" stroke-width="1.0"/>
<line x1="561.98" y1="515.82" x2="563.39" y2="518.24" stroke="#969696" stroke-width="1.0"/>
<line x1="413.27" y1="395.91" x2="409.62" y2="396.82" stroke="#969696" stroke-width="1.0"/>
<line x1="448.65" y1="467.60" x2="445.72" y2="468.46" stroke="#969696" stroke-width="1.0"/>
<line x1="581.10" y1="509.34" x2="582.57" y2="511.72" stroke="#969696" stroke-width="1.0"/>
<line x1="406.63" y1="383.35" x2="402.74" y2="384.29" stroke="#969696" stroke-width="1.0"/>
<line x1="443.07" y1="454.59" x2="440.20" y2="455.40" stroke="#969696" stroke-width="1.0"/>
<line x1="599.81" y1="503.01" x2="601.33" y2="505.34" stroke="#969696" stroke-width="1.0"/>
<line x1="399.14" y1="369.19" x2="394.99" y2="370.16" stroke="#969696" stroke-width="1.0"/>
<line x1="437.74" y1="442.16" x2="434.93" y2="442.94" stroke="#969696" stroke-width="1.0"/>
<line x1="618.11" y1="496.82" x2="619.69" y2="499.09" stroke="#969696" stroke-width="1.0"/>
<line x1="399.14" y1="369.19" x2="570.42" y2="329.39" stroke="#969696" stroke-width="1.1"/>
<line x1="399.14" y1="369.19" x2="437.74" y2="442.16" stroke="#969696" stroke-width="1.1"/>
<line x1="437.74" y1="442.16" x2="481.05" y2="543.21" stroke="#969696" stroke-width="1.1"/>
<line x1="481.05" y1="543.21" x2="618.11" y2="496.82" stroke="#969696" stroke-width="1.1"/>
<line x1="618.11" y1="496.82" x2="665.87" y2="440.86" stroke="#969696" stroke-width="1.1"/>
<line x1="665.87" y1="440.86" x2="570.42" y2="329.39" stroke="#969696" stroke-width="1.1"/>
<line x1="437.74" y1="442.16" x2="557.24" y2="409.14" stroke="#a0a0a0" stroke-width="1.2"/>
<line x1="557.24" y1="409.14" x2="618.11" y2="496.82" stroke="#a0a0a0" stroke-width="1.2"/>
<line x1="557.24" y1="409.14" x2="570.42" y2="329.39" stroke="#a0a0a0" stroke-width="1.2"/>
<text x="66.4" y="372.2" font-size="9" text-anchor="end" fill="#222">16</text>
<text x="72.2" y="383.4" font-size="9" text-anchor="end" fill="#222">14</text>
<text x="77.4" y="393.5" font-size="9" text-anchor="end" fill="#222">12</text>
<text x="82.2" y="402.8" font-size="9" text-anchor="end" fill="#222">10</text>
<text x="86.6" y="411.4" font-size="9" text-anchor="end" fill="#222">8</text>
<text x="90.7" y="419.2" font-size="9" text-anchor="end" fill="#222">6</text>
<text x="94.4" y="426.5" font-size="9" text-anchor="end" fill="#222">4</text>
<text x="97.9" y="433.3" font-size="9" text-anchor="end" fill="#222">2</text>
<text x="101.2" y="439.6" font-size="9" text-anchor="end" fill="#222">0</text>
<text x="104.2" y="445.5" font-size="9" text-anchor="end" fill="#222">-2</text>
<text x="108.4" y="455.2" font-size="9" text-anchor="end" fill="#222">14</text>
<text x="112.8" y="465.2" font-size="9" text-anchor="end" fill="#222">12</text>
<text x="117.4" y="475.6" font-size="9" text-anchor="end" fill="#222">10</text>
<text x="122.1" y="486.4" font-size="9" text-anchor="end" fill="#222">8</text>
<text x="127.0" y="497.5" font-size="9" text-anchor="end" fill="#222">6</text>
<text x="132.1" y="509.1" font-size="9" text-anchor="end" fill="#222">4</text>
<text x="137.4" y="521.2" font-size="9" text-anchor="end" fill="#222">2</text>
<text x="142.9" y="533.7" font-size="9" text-anchor="end" fill="#222">0</text>
<text x="148.6" y="546.7" font-size="9" text-anchor="end" fill="#222">-2</text>
<text x="158.1" y="554.2" font-size="9" text-anchor="middle" fill="#222">-2</text>
<text x="174.5" y="548.7" font-size="9" text-anchor="middle" fill="#222">0</text>
<text x="190.5" y="543.4" font-size="9" text-anchor="middle" fill="#222">2</text>
<text x="206.2" y="538.1" font-size="9" text-anchor="middle" fill="#222">4</text>
<text x="221.7" y="532.9" font-size="9" text-anchor="middle" fill="#222">6</text>
<text x="236.9" y="527.8" font-size="9" text-anchor="middle" fill="#222">8</text>
<text x="251.8" y="522.8" font-size="9" text-anchor="middle" fill="#222">10</text>
<text x="266.5" y="517.9" font-size="9" text-anchor="middle" fill="#222">12</text>
<text x="281.0" y="513.0" font-size="9" text-anchor="middle" fill="#222">14</text>
<text x="295.2" y="508.2" font-size="9" text-anchor="middle" fill="#222">16</text>
<text x="394.6" y="372.7" font-size="9" text-anchor="end" fill="#222">0.9</text>
<text x="402.1" y="386.8" font-size="9" text-anchor="end" fill="#222">0.8</text>
<text x="408.8" y="399.4" font-size="9" text-anchor="end" fill="#222">0.7</text>
<text x="414.7" y="410.6" font-size="9" text-anchor="end" fill="#222">0.6</text>
<text x="420.0" y="420.7" font-size="9" text-anchor="end" fill="#222">0.5</text>
<text x="424.9" y="429.8" font-size="9" text-anchor="end" fill="#222">0.4</text>
<text x="429.2" y="438.1" font-size="9" text-anchor="end" fill="#222">0.3</text>
<text x="433.2" y="445.7" font-size="9" text-anchor="end" fill="#222">0.2</text>
<text x="438.6" y="458.1" font-size="9" text-anchor="end" fill="#222">0.8</text>
<text x="444.1" y="471.1" font-size="9" text-anchor="end" fill="#222">0.7</text>
<text x="450.0" y="484.8" font-size="9" text-anchor="end" fill="#222">0.6</text>
<text x="456.1" y="499.1" font-size="9" text-anchor="end" fill="#222">0.5</text>
<text x="462.6" y="514.1" font-size="9" text-anchor="end" fill="#222">0.4</text>
<text x="469.4" y="530.0" font-size="9" text-anchor="end" fill="#222">0.3</text>
<text x="476.5" y="546.7" font-size="9" text-anchor="end" fill="#222">0.2</text>
<text x="487.0" y="554.2" font-size="9" text-anchor="middle" fill="#222">0.2</text>
<text x="508.0" y="547.1" font-size="9" text-anchor="middle" fill="#222">0.3</text>
<text x="528.4" y="540.2" font-size="9" text-anchor="middle" fill="#222">0.4</text>
<text x="548.4" y="533.4" font-size="9" text-anchor="middle" fill="#222">0.5</text>
<text x="568.0" y="526.8" font-size="9" text-anchor="middle" fill="#222">0.6</text>
<text x="587.1" y="520.3" font-size="9" text-anchor="middle" fill="#222">0.7</text>
<text x="605.8" y="514.0" font-size="9" text-anchor="middle" fill="#222">0.8</text>
<text x="624.1" y="507.8" font-size="9" text-anchor="middle" fill="#222">0.9</text>
<text transform="translate(70.5,412.6) rotate(-117.5)" font-size="10.5" text-anchor="middle" fill="#222">I(t+2ΔT), nA</text>
<text transform="translate(95.5,493.5) rotate(62)" font-size="10.5" text-anchor="middle" fill="#222">I(t+ΔT), nA</text>
<text transform="translate(228.5,553.2) rotate(-21) skewX(14)" font-size="10.8" text-anchor="middle" fill="#222">I(t), nA</text>
<text transform="translate(394.9,413.4) rotate(-117.5)" font-size="10.5" text-anchor="middle" fill="#222">I(t+2ΔT), nA</text>
<text transform="translate(419.5,494.0) rotate(62)" font-size="10.5" text-anchor="middle" fill="#222">I(t+ΔT), nA</text>
<text transform="translate(556.5,552.8) rotate(-21) skewX(14)" font-size="10.8" text-anchor="middle" fill="#222">I(t), nA</text>
<path d="M161.6,527.1 L161.1,525.7 L160.6,523.4 L160.1,520.4 L159.6,517.1 L159.3,513.7 L159.1,510.3 L159.1,506.9 L159.3,503.3 L159.6,499.6 L160.0,495.8 L160.3,492.1 L160.4,488.7 L160.4,485.6 L160.2,482.7 L160.0,480.0 L159.8,477.2 L159.7,474.3 L159.8,471.0 L160.1,467.4 L160.5,463.4 L161.0,459.3 L161.7,455.2 L162.4,451.1 L163.2,447.2 L164.1,443.5 L165.2,439.9 L166.5,436.4 L167.7,432.9 L169.0,429.4 L170.2,425.9 L171.3,422.5 L172.3,419.1 L173.3,415.7 L174.4,412.3 L175.6,408.7 L177.1,404.9 L179.0,400.8 L181.0,396.5 L183.2,391.9 L185.6,387.4 L188.0,383.0 L190.5,379.0 L193.0,375.1 L195.6,371.3 L198.3,367.7 L201.1,364.2 L203.8,361.0 L206.5,358.1 L209.1,355.5 L211.8,353.1 L214.5,350.9 L217.2,349.0 L219.7,347.3 L222.1,345.7 L224.3,344.3 L226.5,343.0 L228.5,341.8 L230.4,341.0 L232.1,340.6 L233.6,340.7 L234.8,341.4 L235.9,342.6 L236.8,344.1 L237.5,346.0 L238.0,348.1 L238.4,350.3 L238.5,352.5 L238.3,355.0 L237.9,357.7 L237.5,360.5 L237.1,363.5 L236.8,366.6 L236.7,369.9 L236.7,373.4 L236.8,377.1 L236.8,380.9 L236.6,384.5 L236.2,387.9 L235.7,391.2 L234.9,394.4 L234.1,397.5 L233.1,400.5 L232.0,403.4 L230.7,406.1 L229.4,408.8 L227.9,411.2 L226.3,413.6 L224.5,415.9 L222.7,418.1 L220.7,420.3 L218.5,422.3 L215.9,424.2 L213.2,426.1 L210.6,427.9 L208.3,429.8 L206.6,431.9 L205.5,434.2 L204.9,436.6 L204.5,439.2 L204.5,441.7 L204.6,444.1 L204.8,446.3 L205.4,448.2 L206.3,449.8 L207.5,451.3 L208.6,452.9 L209.5,454.6 L209.8,456.8 L209.5,459.4 L208.7,462.5 L207.7,465.7 L206.6,469.0 L205.6,472.2 L204.8,475.2 L204.4,477.8 L204.3,480.4 L204.3,482.9 L204.2,485.3 L203.7,487.6 L202.6,489.8 L200.8,491.9 L198.5,493.9 L195.8,495.8 L193.0,497.7 L190.1,499.5 L187.4,501.4 L184.8,503.3 L182.0,505.3 L179.3,507.2 L176.6,509.1 L174.1,510.9 L172.0,512.7 L170.3,514.3 L168.8,515.8 L167.5,517.3 L166.4,518.7 L165.4,520.0 L164.5,521.3 L163.7,522.7 L163.2,524.3 L162.7,525.8 L162.4,527.0 L162.0,527.5 L161.6,527.1 Z" fill="none" stroke="#ff2a2a" stroke-opacity="0.45" stroke-width="0.95"/>
<path d="M162.8,528.2 L162.4,526.7 L161.9,524.3 L161.3,521.3 L160.8,518.0 L160.4,514.5 L160.2,511.3 L160.2,508.2 L160.3,505.0 L160.5,501.7 L160.8,498.4 L161.1,495.0 L161.3,491.5 L161.5,487.8 L161.6,484.1 L161.7,480.2 L161.8,476.4 L162.0,472.6 L162.3,469.0 L162.7,465.6 L163.1,462.4 L163.7,459.2 L164.3,456.1 L164.9,452.8 L165.5,449.4 L166.2,445.7 L166.9,441.9 L167.7,438.0 L168.5,434.0 L169.3,430.1 L170.2,426.2 L171.2,422.6 L172.1,419.0 L173.1,415.4 L174.2,411.8 L175.5,408.2 L177.1,404.5 L179.0,400.7 L181.3,396.8 L183.7,393.0 L186.3,389.0 L188.8,385.1 L191.3,381.1 L193.6,377.0 L195.8,372.6 L198.0,368.2 L200.3,364.1 L202.7,360.3 L205.2,357.2 L208.0,354.7 L211.1,352.9 L214.3,351.4 L217.5,350.2 L220.3,349.2 L222.8,348.2 L224.7,347.2 L226.3,346.3 L227.6,345.5 L228.8,345.0 L229.9,344.7 L231.0,344.7 L232.1,345.0 L233.2,345.5 L234.2,346.2 L235.2,347.3 L235.9,348.8 L236.4,350.6 L236.7,353.1 L236.8,356.2 L236.6,359.6 L236.4,363.3 L236.2,366.8 L236.1,370.1 L236.0,373.1 L236.1,376.1 L236.1,379.0 L236.1,381.8 L235.9,384.7 L235.5,387.5 L234.9,390.3 L234.1,393.2 L233.2,396.0 L232.1,398.8 L231.0,401.5 L229.7,404.2 L228.4,406.7 L226.9,409.2 L225.4,411.6 L223.7,414.0 L222.0,416.4 L220.2,418.7 L218.2,421.1 L216.0,423.4 L213.7,425.7 L211.5,427.9 L209.5,430.2 L208.0,432.5 L206.9,434.9 L206.0,437.3 L205.4,439.7 L205.1,442.1 L204.9,444.4 L204.8,446.5 L205.0,448.3 L205.5,449.9 L206.1,451.4 L206.8,452.9 L207.3,454.6 L207.6,456.7 L207.7,459.3 L207.6,462.2 L207.4,465.4 L207.1,468.6 L206.7,471.7 L206.1,474.6 L205.4,477.3 L204.6,480.0 L203.6,482.6 L202.5,485.1 L201.2,487.5 L199.8,489.7 L198.1,491.8 L196.2,493.7 L194.2,495.5 L192.0,497.2 L189.7,499.0 L187.3,500.9 L184.6,503.1 L181.6,505.3 L178.4,507.7 L175.4,510.0 L172.6,512.1 L170.4,514.1 L168.7,515.8 L167.4,517.3 L166.4,518.7 L165.6,519.9 L165.0,521.2 L164.4,522.3 L163.9,523.7 L163.6,525.3 L163.4,526.8 L163.2,528.0 L163.1,528.5 L162.8,528.2 Z" fill="none" stroke="#ff2a2a" stroke-opacity="0.45" stroke-width="0.95"/>
<path d="M163.9,526.6 L163.3,525.1 L162.4,522.8 L161.5,519.9 L160.6,516.6 L159.9,513.2 L159.5,510.1 L159.4,507.0 L159.5,503.7 L159.7,500.4 L160.1,497.0 L160.5,493.6 L160.7,490.3 L160.9,487.0 L161.1,483.7 L161.2,480.5 L161.4,477.2 L161.7,473.8 L162.1,470.4 L162.6,466.8 L163.3,463.1 L164.0,459.3 L164.8,455.5 L165.5,451.7 L166.1,448.0 L166.6,444.4 L167.0,440.9 L167.4,437.3 L167.8,433.8 L168.3,430.3 L169.0,426.7 L169.8,423.2 L170.6,419.6 L171.6,416.1 L172.7,412.5 L174.1,408.8 L175.8,405.1 L178.0,401.3 L180.6,397.5 L183.4,393.6 L186.4,389.7 L189.2,385.8 L191.9,381.9 L194.4,377.8 L196.8,373.6 L199.1,369.3 L201.3,365.3 L203.7,361.6 L206.0,358.5 L208.5,356.0 L211.1,354.0 L213.7,352.3 L216.3,351.0 L218.7,349.8 L220.8,348.8 L222.7,347.8 L224.4,347.0 L226.0,346.4 L227.4,346.0 L228.8,345.8 L230.1,346.0 L231.4,346.3 L232.7,346.9 L233.8,347.7 L234.9,348.8 L235.8,350.2 L236.5,352.0 L236.8,354.4 L237.0,357.3 L237.0,360.5 L236.8,363.8 L236.6,367.2 L236.4,370.5 L236.2,373.6 L235.9,376.8 L235.6,379.9 L235.2,383.1 L234.7,386.2 L234.2,389.3 L233.6,392.3 L233.0,395.4 L232.4,398.5 L231.6,401.4 L230.6,404.2 L229.4,406.8 L227.8,409.0 L225.8,410.9 L223.7,412.7 L221.4,414.4 L219.3,416.2 L217.3,418.2 L215.4,420.4 L213.4,422.8 L211.6,425.3 L209.8,427.8 L208.2,430.2 L207.0,432.5 L205.9,434.7 L205.1,436.8 L204.4,438.8 L204.0,440.8 L203.7,442.8 L203.7,444.9 L204.1,446.9 L205.0,448.8 L206.0,450.8 L207.1,452.9 L207.9,455.0 L208.3,457.5 L208.3,460.2 L207.9,463.2 L207.3,466.3 L206.6,469.5 L205.8,472.6 L205.1,475.4 L204.5,478.1 L203.9,480.8 L203.3,483.3 L202.5,485.7 L201.5,488.1 L200.2,490.3 L198.3,492.4 L196.1,494.4 L193.6,496.2 L191.0,498.0 L188.5,499.8 L186.1,501.6 L183.8,503.3 L181.4,505.0 L179.1,506.6 L176.8,508.2 L174.7,509.8 L172.8,511.5 L171.2,513.2 L169.7,515.1 L168.3,516.9 L167.1,518.6 L166.1,520.2 L165.2,521.6 L164.7,523.0 L164.4,524.4 L164.4,525.8 L164.3,526.7 L164.2,527.0 L163.9,526.6 Z" fill="none" stroke="#ff2a2a" stroke-opacity="0.45" stroke-width="0.95"/>
<path d="M161.9,526.0 L161.5,524.6 L161.3,522.2 L161.1,519.2 L161.0,515.9 L160.9,512.4 L160.7,509.2 L160.5,506.1 L160.1,503.0 L159.7,499.8 L159.4,496.5 L159.3,493.2 L159.3,489.8 L159.6,486.4 L160.2,482.9 L160.9,479.4 L161.6,475.9 L162.2,472.3 L162.8,468.8 L163.1,465.3 L163.3,461.7 L163.4,458.2 L163.6,454.6 L163.9,451.1 L164.4,447.5 L165.2,443.9 L166.2,440.3 L167.3,436.7 L168.4,433.1 L169.6,429.5 L170.8,425.9 L172.0,422.5 L173.1,419.0 L174.3,415.6 L175.5,412.1 L176.8,408.7 L178.3,405.2 L180.0,401.6 L181.7,398.0 L183.5,394.4 L185.5,390.7 L187.6,387.0 L189.9,383.4 L192.5,379.7 L195.4,375.8 L198.4,371.9 L201.5,368.1 L204.4,364.7 L207.1,361.6 L209.4,358.9 L211.6,356.5 L213.7,354.4 L215.7,352.5 L217.7,350.9 L219.6,349.6 L221.7,348.5 L223.7,347.6 L225.8,346.9 L227.7,346.6 L229.5,346.6 L231.0,346.9 L232.3,347.8 L233.4,349.0 L234.4,350.6 L235.2,352.4 L235.8,354.4 L236.1,356.5 L236.2,358.6 L235.9,360.9 L235.4,363.3 L234.8,365.9 L234.3,368.7 L234.0,371.5 L233.9,374.6 L233.9,377.9 L234.0,381.4 L234.1,384.8 L234.0,388.2 L233.7,391.2 L233.2,394.0 L232.7,396.7 L232.0,399.2 L231.2,401.6 L230.2,403.9 L228.9,406.2 L227.3,408.5 L225.4,410.7 L223.2,412.9 L221.0,415.0 L218.9,417.1 L216.9,419.2 L215.1,421.1 L213.2,423.0 L211.4,424.8 L209.7,426.6 L208.2,428.5 L207.0,430.6 L206.0,432.8 L205.1,435.1 L204.5,437.6 L204.1,440.0 L203.8,442.4 L203.8,444.8 L204.0,446.9 L204.6,449.0 L205.5,451.0 L206.3,453.1 L207.0,455.3 L207.4,457.7 L207.7,460.4 L207.8,463.2 L207.8,466.1 L207.7,469.1 L207.3,472.1 L206.7,475.0 L205.8,477.8 L204.7,480.6 L203.3,483.5 L201.8,486.2 L200.2,488.9 L198.7,491.3 L197.1,493.6 L195.5,495.7 L193.8,497.7 L192.0,499.6 L190.0,501.4 L187.9,503.3 L185.4,505.3 L182.5,507.2 L179.4,509.2 L176.4,511.0 L173.8,512.7 L171.6,514.2 L170.1,515.5 L169.1,516.5 L168.3,517.4 L167.7,518.3 L167.2,519.1 L166.5,520.0 L165.6,521.3 L164.8,522.9 L163.9,524.5 L163.2,525.7 L162.5,526.4 L161.9,526.0 Z" fill="none" stroke="#ff2a2a" stroke-opacity="0.45" stroke-width="0.95"/>
<path d="M163.4,527.8 L163.0,526.3 L162.5,523.8 L161.9,520.7 L161.3,517.1 L160.7,513.5 L160.3,510.1 L160.1,506.8 L159.9,503.4 L159.8,500.0 L159.7,496.5 L159.8,493.0 L159.8,489.5 L159.9,486.1 L160.1,482.6 L160.3,479.2 L160.6,475.7 L160.9,472.2 L161.4,468.7 L161.9,465.2 L162.6,461.7 L163.3,458.1 L164.1,454.6 L164.9,451.0 L165.7,447.4 L166.6,443.6 L167.4,439.8 L168.3,435.9 L169.2,432.0 L170.2,428.3 L171.2,424.8 L172.3,421.6 L173.4,418.7 L174.6,416.0 L175.9,413.2 L177.3,410.3 L178.9,407.2 L180.8,403.8 L182.9,400.2 L185.1,396.5 L187.4,392.7 L189.8,389.0 L192.1,385.3 L194.6,381.5 L197.1,377.7 L199.7,373.8 L202.3,370.1 L204.7,366.7 L207.0,363.8 L209.1,361.4 L211.1,359.4 L213.0,357.6 L214.8,356.2 L216.6,354.9 L218.4,353.7 L220.2,352.5 L222.1,351.4 L224.0,350.4 L225.8,349.8 L227.5,349.4 L229.0,349.5 L230.3,350.1 L231.5,351.0 L232.6,352.2 L233.5,353.8 L234.2,355.6 L234.7,357.6 L234.9,360.0 L234.9,362.8 L234.7,365.8 L234.4,369.0 L234.1,372.1 L233.8,375.1 L233.7,377.9 L233.5,380.6 L233.3,383.3 L233.1,386.0 L232.7,388.7 L232.1,391.4 L231.4,394.3 L230.6,397.2 L229.6,400.2 L228.5,403.1 L227.4,405.8 L226.2,408.4 L224.9,410.8 L223.6,413.0 L222.2,415.1 L220.7,417.1 L219.1,419.1 L217.4,420.9 L215.4,422.6 L213.1,424.1 L210.7,425.5 L208.5,426.9 L206.5,428.6 L205.1,430.5 L204.2,432.7 L203.8,435.3 L203.7,438.0 L203.8,440.8 L204.0,443.4 L204.1,446.0 L204.3,448.2 L204.7,450.3 L205.1,452.3 L205.6,454.3 L206.0,456.5 L206.3,458.9 L206.5,461.7 L206.7,464.7 L206.8,468.0 L206.9,471.2 L206.8,474.2 L206.4,476.9 L206.0,479.2 L205.4,481.2 L204.7,482.9 L203.8,484.7 L202.7,486.5 L201.2,488.5 L199.4,490.8 L197.2,493.3 L194.8,495.9 L192.2,498.4 L189.5,500.8 L186.9,502.9 L184.1,504.7 L181.1,506.4 L178.1,507.9 L175.1,509.3 L172.5,510.7 L170.3,512.1 L168.6,513.6 L167.3,515.2 L166.3,516.7 L165.5,518.1 L164.8,519.6 L164.2,520.9 L163.8,522.4 L163.6,524.3 L163.6,526.0 L163.7,527.4 L163.6,528.1 L163.4,527.8 Z" fill="none" stroke="#ff2a2a" stroke-opacity="0.45" stroke-width="0.95"/>
<path d="M162.4,526.7 L162.0,525.1 L161.6,522.5 L161.4,519.2 L161.2,515.6 L161.0,511.9 L160.8,508.5 L160.5,505.3 L160.1,502.1 L159.8,498.8 L159.5,495.5 L159.3,492.2 L159.2,488.9 L159.3,485.5 L159.5,482.2 L159.8,478.8 L160.2,475.4 L160.7,472.0 L161.3,468.7 L162.2,465.4 L163.2,462.2 L164.4,459.0 L165.6,455.8 L166.7,452.5 L167.5,449.1 L168.0,445.4 L168.2,441.6 L168.3,437.7 L168.4,433.7 L168.7,429.9 L169.3,426.2 L170.2,422.8 L171.4,419.5 L172.7,416.3 L174.1,413.1 L175.7,409.9 L177.4,406.6 L179.3,403.2 L181.3,399.8 L183.5,396.3 L185.7,392.8 L188.0,389.3 L190.4,385.9 L192.9,382.3 L195.5,378.6 L198.2,375.0 L200.8,371.4 L203.4,368.2 L205.9,365.3 L208.1,362.9 L210.3,360.8 L212.5,359.0 L214.5,357.5 L216.4,356.2 L218.3,355.0 L220.1,354.1 L221.8,353.4 L223.5,353.0 L225.1,352.7 L226.5,352.7 L227.9,353.0 L229.1,353.5 L230.4,354.3 L231.5,355.3 L232.5,356.5 L233.3,358.0 L233.7,359.7 L233.8,361.7 L233.6,364.0 L233.1,366.5 L232.5,369.1 L232.0,371.9 L231.6,374.7 L231.3,377.7 L231.1,380.9 L231.0,384.2 L230.8,387.4 L230.6,390.6 L230.2,393.5 L229.9,396.2 L229.5,398.6 L229.1,401.0 L228.6,403.3 L227.9,405.5 L227.0,407.8 L225.8,410.0 L224.4,412.3 L222.9,414.5 L221.3,416.7 L219.5,418.8 L217.7,420.8 L215.6,422.6 L213.2,424.3 L210.7,425.9 L208.4,427.5 L206.4,429.2 L204.8,431.1 L203.9,433.3 L203.4,435.7 L203.3,438.2 L203.3,440.7 L203.5,443.2 L203.7,445.6 L204.0,447.8 L204.6,449.9 L205.3,452.0 L206.0,454.0 L206.5,456.2 L206.8,458.6 L206.8,461.2 L206.5,463.9 L206.2,466.8 L205.7,469.6 L205.1,472.5 L204.5,475.2 L204.0,477.9 L203.6,480.6 L203.0,483.3 L202.3,485.8 L201.3,488.3 L199.9,490.6 L198.0,492.6 L195.6,494.5 L192.9,496.2 L190.1,497.9 L187.4,499.7 L184.8,501.5 L182.4,503.6 L179.9,505.8 L177.5,508.0 L175.3,510.2 L173.2,512.2 L171.5,513.9 L170.2,515.3 L169.2,516.5 L168.4,517.5 L167.8,518.5 L167.2,519.4 L166.5,520.4 L165.7,521.7 L164.9,523.4 L164.2,525.1 L163.5,526.4 L162.9,527.0 L162.4,526.7 Z" fill="none" stroke="#ff2a2a" stroke-opacity="0.45" stroke-width="0.95"/>
<path d="M164.0,527.6 L163.3,526.1 L162.4,523.6 L161.4,520.4 L160.5,516.8 L159.7,513.2 L159.1,509.9 L158.9,506.8 L158.8,503.7 L158.8,500.5 L159.0,497.4 L159.3,494.2 L159.6,490.9 L160.1,487.7 L160.6,484.5 L161.3,481.3 L162.0,478.0 L162.7,474.6 L163.4,471.2 L164.0,467.5 L164.7,463.8 L165.3,460.0 L166.0,456.1 L166.7,452.3 L167.4,448.5 L168.1,444.8 L168.9,441.0 L169.7,437.2 L170.4,433.5 L171.2,430.0 L172.1,426.5 L172.8,423.2 L173.5,420.2 L174.2,417.2 L175.0,414.3 L176.0,411.2 L177.2,408.0 L178.8,404.4 L180.6,400.7 L182.6,396.9 L184.8,393.1 L187.1,389.3 L189.5,385.7 L192.1,382.3 L195.0,378.8 L198.0,375.4 L201.0,372.1 L203.9,369.2 L206.4,366.6 L208.5,364.3 L210.4,362.4 L212.2,360.7 L213.8,359.3 L215.5,358.1 L217.3,357.0 L219.4,356.0 L221.7,355.2 L224.0,354.6 L226.2,354.3 L228.1,354.2 L229.5,354.6 L230.3,355.3 L230.6,356.5 L230.6,358.0 L230.5,359.7 L230.3,361.6 L230.3,363.6 L230.4,365.8 L230.4,368.1 L230.5,370.6 L230.6,373.3 L230.6,376.0 L230.6,378.6 L230.6,381.4 L230.6,384.2 L230.6,387.1 L230.6,390.0 L230.5,392.8 L230.2,395.5 L229.8,398.0 L229.4,400.4 L229.0,402.7 L228.3,405.0 L227.6,407.1 L226.6,409.1 L225.3,411.0 L223.8,412.7 L222.2,414.4 L220.4,416.0 L218.6,417.6 L216.8,419.4 L214.9,421.3 L212.8,423.3 L210.6,425.4 L208.6,427.5 L206.8,429.6 L205.5,431.6 L204.6,433.6 L204.1,435.6 L203.9,437.5 L203.8,439.5 L203.9,441.6 L204.1,443.8 L204.5,446.2 L205.2,448.7 L206.0,451.3 L206.8,454.0 L207.4,456.6 L207.5,459.3 L207.2,462.0 L206.5,464.7 L205.6,467.4 L204.6,470.1 L203.6,472.8 L202.9,475.5 L202.4,478.2 L202.1,480.9 L201.9,483.6 L201.5,486.3 L200.9,488.7 L199.7,491.0 L198.0,492.9 L195.7,494.6 L193.2,496.1 L190.5,497.5 L187.8,499.0 L185.2,500.7 L182.7,502.7 L180.1,504.8 L177.4,507.0 L174.9,509.2 L172.7,511.3 L170.8,513.0 L169.4,514.6 L168.4,515.9 L167.6,517.0 L166.9,518.1 L166.4,519.2 L165.9,520.4 L165.4,521.9 L165.1,523.7 L164.9,525.5 L164.7,527.0 L164.5,527.8 L164.0,527.6 Z" fill="none" stroke="#ff2a2a" stroke-opacity="0.45" stroke-width="0.95"/>
<path d="M162.2,526.3 L161.8,524.8 L161.3,522.4 L160.8,519.5 L160.3,516.3 L159.9,512.9 L159.6,509.8 L159.4,506.7 L159.2,503.4 L159.2,500.1 L159.2,496.7 L159.4,493.4 L159.7,490.0 L160.3,486.7 L161.1,483.4 L162.1,480.1 L163.1,476.7 L164.0,473.3 L164.8,469.7 L165.4,466.1 L165.9,462.2 L166.4,458.3 L166.8,454.4 L167.3,450.6 L167.9,447.0 L168.5,443.5 L169.3,440.1 L170.0,436.8 L170.8,433.6 L171.7,430.4 L172.6,427.1 L173.7,424.0 L174.7,420.9 L175.8,417.8 L177.0,414.7 L178.4,411.6 L179.9,408.5 L181.5,405.3 L183.2,402.0 L185.1,398.8 L187.1,395.5 L189.2,392.3 L191.4,389.1 L193.8,385.7 L196.4,382.2 L199.1,378.7 L201.8,375.3 L204.4,372.3 L206.7,369.8 L208.6,367.9 L210.3,366.3 L211.8,365.1 L213.2,364.2 L214.8,363.3 L216.4,362.5 L218.4,361.6 L220.6,360.7 L222.9,359.9 L225.0,359.3 L226.9,359.1 L228.3,359.2 L229.2,359.7 L229.8,360.7 L230.0,361.9 L230.1,363.3 L230.2,364.9 L230.2,366.6 L230.2,368.4 L230.2,370.3 L230.0,372.4 L229.8,374.7 L229.6,377.0 L229.3,379.5 L229.1,382.1 L228.8,385.0 L228.4,388.0 L228.1,391.0 L227.6,393.8 L227.1,396.5 L226.6,398.8 L226.1,401.0 L225.4,403.0 L224.8,405.0 L224.0,407.0 L223.1,409.1 L222.0,411.4 L220.9,413.7 L219.7,416.1 L218.4,418.4 L216.9,420.6 L215.3,422.6 L213.4,424.4 L211.2,426.0 L208.9,427.5 L206.6,429.0 L204.7,430.6 L203.3,432.4 L202.4,434.5 L202.0,436.7 L201.9,439.1 L202.1,441.5 L202.3,443.9 L202.6,446.1 L203.1,448.0 L203.9,449.8 L204.7,451.5 L205.6,453.2 L206.2,455.1 L206.5,457.3 L206.4,459.9 L205.9,462.7 L205.2,465.7 L204.4,468.8 L203.7,471.7 L202.9,474.6 L202.4,477.3 L202.1,479.9 L201.7,482.5 L201.1,485.0 L200.3,487.4 L199.0,489.6 L197.2,491.8 L195.0,493.7 L192.5,495.6 L189.9,497.4 L187.2,499.3 L184.7,501.2 L182.3,503.2 L179.9,505.4 L177.4,507.5 L175.1,509.6 L172.9,511.6 L171.0,513.4 L169.4,515.1 L167.9,516.8 L166.6,518.3 L165.5,519.7 L164.6,521.0 L163.8,522.1 L163.2,523.3 L162.9,524.6 L162.7,525.8 L162.6,526.6 L162.5,526.9 L162.2,526.3 Z" fill="none" stroke="#ff2a2a" stroke-opacity="0.45" stroke-width="0.95"/>
<path d="M162.7,526.8 L162.2,525.6 L161.6,523.5 L161.1,520.7 L160.6,517.5 L160.3,514.2 L160.1,511.0 L160.2,507.8 L160.6,504.4 L161.1,500.8 L161.6,497.2 L162.2,493.6 L162.5,490.2 L162.7,486.9 L162.8,483.7 L162.9,480.5 L163.0,477.4 L163.2,474.1 L163.6,470.7 L164.3,467.0 L165.1,463.1 L166.1,459.2 L167.1,455.3 L168.1,451.4 L169.1,447.7 L169.9,444.2 L170.6,440.8 L171.3,437.6 L172.1,434.3 L172.8,431.1 L173.7,427.9 L174.6,424.6 L175.5,421.3 L176.5,418.0 L177.5,414.8 L178.7,411.6 L180.0,408.5 L181.5,405.5 L183.2,402.6 L184.9,399.8 L186.8,397.0 L188.8,394.3 L190.9,391.5 L193.2,388.8 L195.7,386.0 L198.2,383.3 L200.8,380.7 L203.4,378.2 L205.7,375.9 L208.0,373.7 L210.2,371.7 L212.4,369.8 L214.4,368.1 L216.3,366.6 L217.9,365.3 L219.3,364.4 L220.6,363.6 L221.6,363.0 L222.6,362.7 L223.4,362.6 L224.2,362.9 L224.9,363.6 L225.6,364.6 L226.1,365.8 L226.6,367.3 L227.0,369.0 L227.5,370.8 L228.0,372.7 L228.5,374.9 L229.1,377.2 L229.5,379.7 L229.7,382.1 L229.7,384.6 L229.4,387.0 L228.8,389.6 L228.0,392.2 L227.2,394.7 L226.3,397.2 L225.5,399.5 L224.9,401.6 L224.3,403.6 L223.7,405.6 L223.0,407.4 L222.3,409.2 L221.4,411.0 L220.4,412.7 L219.4,414.3 L218.2,415.8 L217.0,417.3 L215.6,418.9 L214.1,420.6 L212.2,422.5 L209.9,424.6 L207.5,426.7 L205.2,428.8 L203.2,430.9 L201.8,433.0 L201.0,434.9 L200.7,436.8 L200.7,438.7 L200.9,440.6 L201.3,442.5 L201.7,444.6 L202.2,446.7 L203.1,448.9 L204.0,451.2 L204.9,453.6 L205.6,456.0 L205.9,458.5 L205.7,461.2 L205.1,464.1 L204.3,467.0 L203.3,469.9 L202.4,472.8 L201.7,475.5 L201.2,478.1 L200.9,480.6 L200.6,483.1 L200.2,485.4 L199.5,487.7 L198.4,490.0 L196.7,492.1 L194.5,494.1 L192.0,496.1 L189.4,498.0 L186.9,499.9 L184.6,501.8 L182.5,503.6 L180.4,505.5 L178.5,507.3 L176.6,509.0 L174.8,510.7 L173.1,512.2 L171.5,513.6 L170.0,514.8 L168.5,516.0 L167.3,517.1 L166.1,518.2 L165.2,519.4 L164.4,520.9 L163.9,522.7 L163.6,524.5 L163.3,526.1 L163.0,526.9 L162.7,526.8 Z" fill="none" stroke="#ff2a2a" stroke-opacity="0.45" stroke-width="0.95"/>
<path d="M162.0,526.9 L161.4,525.7 L160.7,523.6 L160.1,520.9 L159.5,517.7 L159.2,514.4 L159.1,511.2 L159.4,507.8 L160.0,504.1 L160.8,500.2 L161.7,496.3 L162.5,492.4 L163.2,488.8 L163.7,485.4 L164.1,482.2 L164.5,479.1 L164.8,476.0 L165.2,472.9 L165.7,469.6 L166.3,466.3 L166.9,462.8 L167.6,459.4 L168.4,455.8 L169.1,452.3 L169.7,448.8 L170.3,445.1 L170.8,441.4 L171.3,437.6 L171.8,433.9 L172.5,430.4 L173.3,427.1 L174.4,424.2 L175.7,421.5 L177.1,418.9 L178.6,416.5 L180.2,414.0 L181.7,411.3 L183.2,408.5 L184.7,405.7 L186.2,402.8 L187.8,399.9 L189.5,397.1 L191.5,394.4 L193.8,391.7 L196.3,389.0 L199.0,386.4 L201.7,383.9 L204.3,381.6 L206.5,379.4 L208.4,377.5 L210.0,375.7 L211.5,374.0 L212.8,372.5 L214.2,371.3 L215.5,370.2 L216.9,369.4 L218.4,368.8 L219.8,368.4 L221.1,368.2 L222.3,368.3 L223.3,368.6 L224.2,369.3 L225.0,370.2 L225.7,371.4 L226.3,372.8 L226.7,374.3 L227.0,375.7 L227.2,377.2 L227.2,378.8 L227.1,380.5 L226.9,382.3 L226.7,384.2 L226.5,386.2 L226.3,388.5 L226.1,391.0 L225.9,393.7 L225.6,396.3 L225.2,398.9 L224.7,401.4 L224.0,403.7 L223.1,405.9 L222.1,408.1 L221.1,410.2 L220.0,412.2 L218.9,414.0 L217.9,415.5 L216.8,416.8 L215.7,417.9 L214.6,419.0 L213.4,420.2 L212.1,421.5 L210.7,422.9 L209.2,424.3 L207.6,425.9 L206.1,427.5 L204.8,429.2 L203.7,431.1 L202.8,433.3 L202.1,435.7 L201.6,438.2 L201.3,440.8 L201.1,443.3 L201.1,445.7 L201.5,447.8 L202.2,449.8 L203.1,451.7 L204.1,453.7 L204.8,455.8 L205.2,458.2 L205.3,460.9 L205.2,463.9 L204.8,467.0 L204.4,470.1 L203.8,473.1 L203.2,475.9 L202.5,478.3 L201.8,480.6 L201.0,482.7 L200.0,484.8 L198.8,486.9 L197.4,489.0 L195.5,491.2 L193.3,493.5 L190.9,495.7 L188.4,497.9 L186.0,500.0 L183.7,502.0 L181.6,504.0 L179.6,505.8 L177.6,507.6 L175.6,509.4 L173.9,511.0 L172.3,512.5 L170.9,514.0 L169.6,515.3 L168.6,516.5 L167.6,517.6 L166.7,518.8 L165.8,520.0 L165.0,521.4 L164.3,523.2 L163.7,524.9 L163.1,526.3 L162.6,527.1 L162.0,526.9 Z" fill="none" stroke="#ff2a2a" stroke-opacity="0.45" stroke-width="0.95"/>
<path d="M162.1,525.9 L161.8,524.3 L161.7,521.9 L161.7,518.8 L161.8,515.4 L161.9,511.9 L161.9,508.6 L161.9,505.5 L161.9,502.3 L161.9,499.1 L162.0,495.8 L162.1,492.5 L162.4,489.2 L162.8,486.0 L163.3,482.8 L163.9,479.6 L164.6,476.3 L165.3,473.0 L165.9,469.6 L166.5,466.0 L167.1,462.4 L167.6,458.7 L168.2,454.9 L168.9,451.3 L169.7,447.7 L170.6,444.2 L171.5,440.7 L172.6,437.2 L173.7,433.8 L174.8,430.6 L175.8,427.6 L176.8,424.9 L177.8,422.4 L178.8,420.1 L179.8,417.8 L181.0,415.5 L182.2,413.1 L183.6,410.4 L185.0,407.7 L186.6,404.9 L188.2,402.2 L189.9,399.5 L191.6,397.0 L193.5,394.6 L195.4,392.2 L197.3,389.9 L199.3,387.8 L201.3,385.9 L203.2,384.3 L205.2,383.1 L207.2,382.2 L209.2,381.6 L211.1,381.1 L212.9,380.6 L214.4,380.0 L215.6,379.2 L216.6,378.3 L217.4,377.4 L218.1,376.7 L218.7,376.2 L219.4,376.2 L220.0,376.8 L220.7,377.7 L221.2,379.0 L221.7,380.4 L222.2,382.0 L222.6,383.5 L223.0,385.0 L223.4,386.7 L223.7,388.4 L223.9,390.2 L224.0,392.0 L224.0,393.7 L223.8,395.4 L223.5,397.1 L223.0,398.7 L222.5,400.4 L221.9,402.1 L221.3,403.8 L220.7,405.5 L220.0,407.3 L219.3,409.0 L218.5,410.8 L217.7,412.5 L216.7,414.2 L215.6,415.9 L214.5,417.6 L213.2,419.2 L211.9,420.8 L210.6,422.4 L209.2,423.9 L207.6,425.3 L205.8,426.5 L203.9,427.7 L202.1,428.9 L200.7,430.3 L199.7,431.8 L199.4,433.5 L199.5,435.3 L199.9,437.2 L200.5,439.2 L201.1,441.4 L201.7,443.6 L202.2,446.0 L202.8,448.5 L203.5,451.1 L204.1,453.8 L204.6,456.5 L204.9,459.2 L204.9,461.9 L204.8,464.7 L204.6,467.5 L204.3,470.3 L203.8,473.0 L203.2,475.6 L202.6,478.2 L201.8,480.7 L200.9,483.2 L199.9,485.6 L198.7,488.0 L197.3,490.2 L195.6,492.5 L193.7,494.7 L191.7,496.8 L189.5,498.9 L187.3,500.8 L185.1,502.7 L182.9,504.3 L180.5,505.9 L178.1,507.4 L175.7,508.8 L173.6,510.2 L171.9,511.6 L170.5,513.1 L169.4,514.6 L168.5,516.1 L167.7,517.5 L167.0,518.9 L166.2,520.2 L165.4,521.6 L164.6,523.1 L163.8,524.6 L163.1,525.8 L162.5,526.3 L162.1,525.9 Z" fill="none" stroke="#ff2a2a" stroke-opacity="0.45" stroke-width="0.95"/>
<path d="M163.3,526.7 L162.8,525.4 L162.0,523.2 L161.0,520.5 L160.2,517.3 L159.5,514.0 L159.3,510.8 L159.6,507.6 L160.2,504.2 L161.0,500.7 L162.0,497.0 L162.8,493.5 L163.6,490.0 L164.0,486.6 L164.4,483.3 L164.8,480.0 L165.1,476.7 L165.5,473.3 L166.1,469.9 L166.8,466.3 L167.5,462.7 L168.4,459.0 L169.2,455.4 L170.1,451.7 L171.0,448.1 L171.8,444.4 L172.5,440.7 L173.3,437.0 L174.1,433.4 L175.0,430.0 L176.1,427.0 L177.4,424.3 L178.8,421.9 L180.4,419.7 L182.0,417.7 L183.6,415.7 L185.1,413.8 L186.6,412.0 L188.0,410.4 L189.4,408.9 L190.9,407.3 L192.4,405.8 L194.0,404.1 L195.9,402.1 L197.9,400.0 L199.9,397.8 L202.0,395.7 L203.9,393.9 L205.5,392.4 L206.9,391.4 L208.2,390.7 L209.3,390.3 L210.3,390.0 L211.2,389.8 L212.0,389.4 L212.7,388.8 L213.4,388.2 L213.9,387.6 L214.4,387.1 L214.9,386.7 L215.4,386.7 L215.9,386.9 L216.3,387.3 L216.8,387.9 L217.2,388.7 L217.6,389.6 L217.9,390.7 L218.2,392.1 L218.5,393.8 L218.7,395.7 L218.9,397.6 L219.0,399.5 L218.9,401.3 L218.7,403.0 L218.3,404.6 L217.9,406.3 L217.4,407.9 L216.9,409.3 L216.4,410.7 L216.0,411.9 L215.8,412.9 L215.5,413.9 L215.2,414.8 L214.7,415.8 L214.1,416.9 L213.2,418.2 L212.1,419.5 L210.9,421.0 L209.7,422.4 L208.4,423.9 L207.2,425.3 L206.0,426.7 L204.7,428.0 L203.4,429.3 L202.2,430.7 L201.2,432.1 L200.5,433.6 L200.0,435.3 L199.8,436.9 L199.8,438.7 L199.9,440.5 L200.1,442.5 L200.3,444.5 L200.7,446.7 L201.3,449.1 L202.0,451.6 L202.7,454.1 L203.3,456.7 L203.5,459.3 L203.6,462.0 L203.4,464.8 L203.1,467.6 L202.7,470.4 L202.3,473.2 L201.7,475.8 L201.2,478.4 L200.7,480.9 L200.1,483.3 L199.3,485.7 L198.3,487.9 L196.9,490.0 L195.0,491.8 L192.8,493.4 L190.3,495.0 L187.7,496.4 L185.1,498.0 L182.7,499.6 L180.3,501.5 L177.9,503.4 L175.6,505.4 L173.3,507.4 L171.3,509.3 L169.6,511.1 L168.1,512.8 L166.9,514.3 L165.9,515.8 L165.1,517.3 L164.4,518.7 L163.8,520.0 L163.5,521.5 L163.4,523.2 L163.5,524.9 L163.6,526.2 L163.6,526.9 L163.3,526.7 Z" fill="none" stroke="#ff2a2a" stroke-opacity="0.45" stroke-width="0.95"/>
<path d="M168,494.5 L174.5,491.5" stroke="#ff2a2a" stroke-opacity="0.45" stroke-width="0.95"/>
<path d="M491.4,517.8 L491.5,515.2 L491.8,511.8 L492.1,507.8 L492.6,503.7 L493.0,499.8 L493.5,496.4 L493.9,493.7 L494.3,491.2 L494.8,489.0 L495.2,486.9 L495.6,484.7 L495.9,482.4 L496.0,480.0 L495.8,477.7 L495.7,475.5 L495.6,473.0 L495.8,470.2 L496.3,466.9 L497.3,463.0 L498.7,458.7 L500.3,454.1 L502.0,449.2 L503.7,444.3 L505.2,439.5 L506.6,434.6 L508.0,429.5 L509.4,424.3 L510.7,419.2 L512.1,414.3 L513.4,409.8 L514.8,405.5 L516.0,401.5 L517.3,397.7 L518.6,394.2 L520.0,390.8 L521.7,387.8 L523.6,385.1 L525.7,382.6 L527.9,380.4 L530.2,378.5 L532.4,376.6 L534.6,374.8 L536.7,373.0 L538.8,371.3 L540.9,369.6 L543.0,368.3 L544.9,367.2 L546.6,366.7 L548.2,366.7 L549.7,367.3 L551.0,368.2 L552.3,369.4 L553.4,370.6 L554.6,371.7 L555.8,372.7 L557.0,373.7 L558.1,374.7 L559.1,375.9 L560.0,377.3 L560.6,379.1 L560.9,381.2 L561.0,383.6 L561.0,386.2 L560.7,389.1 L560.4,392.3 L560.1,395.8 L559.6,399.8 L559.0,404.2 L558.3,409.0 L557.5,413.9 L556.7,418.9 L555.8,423.8 L554.8,428.8 L553.7,434.1 L552.6,439.5 L551.4,444.7 L550.3,449.7 L549.4,454.2 L548.7,458.2 L548.1,461.8 L547.5,465.1 L547.1,468.2 L546.5,471.3 L546.0,474.5 L545.4,477.8 L545.1,481.1 L544.7,484.4 L544.1,487.6 L543.2,490.6 L541.7,493.5 L539.7,496.2 L537.1,498.9 L534.2,501.4 L531.2,503.7 L528.1,505.8 L525.2,507.8 L522.5,509.4 L519.9,510.9 L517.2,512.1 L514.6,513.2 L511.9,514.2 L509.3,515.3 L506.6,516.4 L503.8,517.4 L500.9,518.5 L498.3,519.4 L495.9,520.0 L494.1,520.4 L492.9,520.6 L492.1,520.8 L491.7,520.7 L491.5,520.3 L491.5,519.4 L491.4,517.8 Z" fill="none" stroke="#2a2a2a" stroke-opacity="0.65" stroke-width="0.9"/>
<path d="M492.1,517.5 L492.2,515.2 L492.6,511.9 L493.2,507.9 L493.8,503.8 L494.3,499.9 L494.7,496.6 L494.8,493.8 L494.9,491.4 L495.0,489.1 L495.0,487.0 L495.0,484.8 L495.2,482.5 L495.4,480.3 L495.6,478.3 L495.9,476.2 L496.2,474.0 L496.7,471.5 L497.3,468.4 L498.1,464.7 L499.0,460.6 L500.0,456.1 L501.2,451.4 L502.3,446.7 L503.4,442.1 L504.6,437.5 L505.7,432.8 L506.8,428.1 L508.0,423.4 L509.3,418.8 L510.8,414.4 L512.4,410.1 L514.1,405.8 L515.9,401.7 L517.8,397.8 L519.7,394.1 L521.8,390.8 L523.9,387.8 L526.3,385.1 L528.7,382.7 L531.1,380.5 L533.4,378.6 L535.5,376.8 L537.6,375.2 L539.5,373.8 L541.4,372.6 L543.2,371.6 L545.0,370.9 L546.6,370.3 L548.2,370.0 L549.7,369.9 L551.2,370.1 L552.6,370.4 L553.9,371.0 L555.0,371.8 L556.1,372.8 L557.1,374.1 L558.1,375.5 L558.9,377.3 L559.5,379.2 L559.9,381.5 L560.1,384.0 L560.1,386.8 L559.9,389.9 L559.5,393.2 L559.1,396.7 L558.5,400.3 L557.8,404.2 L556.8,408.3 L555.8,412.6 L554.7,417.0 L553.7,421.5 L552.8,425.9 L552.2,430.5 L551.7,435.1 L551.3,439.9 L550.9,444.6 L550.5,449.1 L549.9,453.3 L549.1,457.1 L548.3,460.7 L547.4,464.1 L546.4,467.4 L545.4,470.7 L544.4,473.9 L543.4,477.3 L542.5,480.7 L541.6,484.1 L540.5,487.3 L539.3,490.4 L537.7,493.2 L535.8,495.7 L533.6,498.0 L531.2,500.1 L528.7,502.1 L526.2,503.9 L523.8,505.7 L521.4,507.5 L519.1,509.1 L516.8,510.7 L514.4,512.1 L512.0,513.4 L509.6,514.4 L507.0,515.2 L504.2,515.8 L501.4,516.1 L498.7,516.4 L496.4,516.6 L494.6,516.8 L493.4,517.3 L492.7,518.0 L492.3,518.6 L492.1,518.9 L492.1,518.7 L492.1,517.5 Z" fill="none" stroke="#2a2a2a" stroke-opacity="0.65" stroke-width="0.9"/>
<path d="M492.2,515.1 L492.0,513.8 L492.0,511.8 L492.2,509.4 L492.5,506.8 L492.8,504.2 L493.3,501.8 L493.9,499.7 L494.8,497.6 L495.7,495.6 L496.7,493.5 L497.4,491.4 L498.0,489.3 L498.2,487.3 L498.1,485.6 L497.9,483.8 L497.7,481.8 L497.6,479.3 L497.9,476.1 L498.4,472.1 L499.2,467.2 L500.1,462.0 L501.2,456.5 L502.4,451.2 L503.7,446.2 L505.1,441.6 L506.8,437.1 L508.6,432.6 L510.5,428.3 L512.3,424.1 L513.9,420.0 L515.5,416.0 L516.9,412.1 L518.3,408.3 L519.7,404.6 L521.1,401.1 L522.8,397.7 L524.6,394.3 L526.5,391.0 L528.6,387.9 L530.6,385.0 L532.7,382.3 L534.6,380.2 L536.4,378.4 L538.2,377.0 L540.0,376.0 L541.7,375.2 L543.2,374.6 L544.7,374.3 L545.9,374.1 L547.0,374.2 L548.0,374.5 L548.9,375.0 L549.9,375.9 L550.8,377.0 L551.9,378.5 L553.0,380.4 L554.2,382.6 L555.2,385.0 L556.0,387.3 L556.4,389.5 L556.4,391.4 L556.1,393.1 L555.5,394.9 L554.8,396.7 L554.2,398.9 L553.9,401.6 L554.0,404.8 L554.2,408.5 L554.6,412.4 L554.9,416.6 L555.1,420.9 L554.8,425.1 L554.2,429.4 L553.2,434.0 L552.0,438.6 L550.7,443.2 L549.5,447.8 L548.6,452.2 L547.9,456.5 L547.3,460.8 L546.9,465.1 L546.5,469.2 L545.9,473.0 L545.0,476.4 L544.0,479.4 L542.9,481.9 L541.6,484.1 L540.2,486.2 L538.6,488.3 L536.8,490.5 L534.6,492.8 L532.2,495.2 L529.6,497.6 L526.8,499.9 L524.1,502.0 L521.3,503.8 L518.5,505.3 L515.5,506.5 L512.4,507.6 L509.5,508.5 L506.8,509.3 L504.4,510.1 L502.5,510.8 L501.0,511.4 L499.6,511.9 L498.5,512.3 L497.4,512.7 L496.4,513.1 L495.4,513.7 L494.5,514.5 L493.7,515.2 L493.1,515.6 L492.5,515.7 L492.2,515.1 Z" fill="none" stroke="#2a2a2a" stroke-opacity="0.65" stroke-width="0.9"/>
<path d="M493.2,514.9 L493.5,513.8 L493.9,512.2 L494.4,510.2 L495.0,508.0 L495.5,505.8 L495.8,503.6 L496.0,501.5 L496.0,499.2 L495.9,496.8 L495.9,494.4 L495.9,492.1 L496.0,489.9 L496.3,488.0 L496.6,486.4 L497.0,484.9 L497.5,483.1 L498.0,480.9 L498.7,477.9 L499.5,474.0 L500.3,469.3 L501.2,464.2 L502.3,458.9 L503.5,453.6 L504.8,448.7 L506.4,444.0 L508.2,439.4 L510.1,434.9 L512.0,430.5 L513.9,426.2 L515.8,421.9 L517.5,417.7 L519.1,413.5 L520.7,409.4 L522.3,405.4 L523.9,401.7 L525.5,398.3 L527.0,395.1 L528.5,392.3 L529.9,389.6 L531.3,387.2 L532.8,385.1 L534.4,383.2 L536.0,381.5 L537.7,380.1 L539.5,378.9 L541.3,377.9 L542.9,377.2 L544.4,376.7 L545.8,376.5 L547.0,376.5 L548.2,376.7 L549.3,377.2 L550.3,378.0 L551.1,379.1 L551.9,380.6 L552.5,382.4 L553.0,384.6 L553.5,386.9 L553.9,389.3 L554.3,391.6 L554.7,393.7 L555.1,395.8 L555.4,397.9 L555.7,400.1 L555.8,402.5 L555.8,405.1 L555.5,407.9 L555.1,410.8 L554.6,413.9 L553.9,417.2 L553.2,420.7 L552.5,424.5 L551.6,428.7 L550.6,433.3 L549.5,438.1 L548.5,443.0 L547.5,447.7 L546.8,452.3 L546.4,456.6 L546.2,461.0 L546.2,465.2 L546.1,469.3 L545.8,473.1 L545.1,476.6 L544.0,479.6 L542.6,482.3 L541.0,484.7 L539.3,487.0 L537.4,489.1 L535.6,491.2 L533.7,493.2 L531.8,495.2 L529.8,497.0 L527.7,498.8 L525.5,500.4 L523.1,502.0 L520.4,503.5 L517.5,504.9 L514.4,506.3 L511.3,507.5 L508.4,508.6 L505.9,509.7 L503.5,510.6 L501.3,511.4 L499.3,512.1 L497.5,512.7 L495.9,513.2 L494.7,513.7 L493.9,514.2 L493.3,514.8 L493.1,515.3 L493.1,515.6 L493.1,515.5 L493.2,514.9 Z" fill="none" stroke="#2a2a2a" stroke-opacity="0.65" stroke-width="0.9"/>
<path d="M491.8,513.0 L492.1,512.1 L492.9,510.9 L494.0,509.4 L495.1,507.8 L496.1,506.1 L496.7,504.4 L497.0,502.7 L497.1,500.9 L497.0,499.0 L496.9,497.0 L496.9,495.0 L497.1,492.8 L497.5,490.8 L498.1,488.8 L498.7,486.7 L499.4,484.4 L500.1,481.7 L500.8,478.5 L501.3,474.6 L501.7,470.1 L502.1,465.2 L502.6,460.2 L503.2,455.2 L504.1,450.4 L505.3,445.7 L506.7,440.9 L508.3,436.2 L509.9,431.5 L511.7,427.0 L513.3,422.7 L515.0,418.7 L516.8,414.8 L518.5,411.1 L520.3,407.5 L522.1,404.1 L523.9,400.8 L525.7,397.6 L527.6,394.6 L529.6,391.6 L531.4,388.9 L533.2,386.5 L534.9,384.5 L536.5,382.9 L537.9,381.6 L539.3,380.7 L540.7,380.0 L542.0,379.5 L543.4,379.3 L544.9,379.3 L546.4,379.5 L548.0,380.0 L549.5,380.7 L550.8,381.6 L551.8,382.7 L552.5,383.9 L552.9,385.3 L553.1,386.9 L553.2,388.7 L553.3,390.5 L553.5,392.5 L553.7,394.5 L554.0,396.6 L554.3,398.8 L554.5,401.2 L554.7,403.7 L554.7,406.4 L554.8,409.3 L554.8,412.4 L554.7,415.6 L554.5,419.1 L554.2,422.7 L553.8,426.5 L553.1,430.6 L552.2,435.0 L551.1,439.6 L550.0,444.2 L548.9,448.8 L547.9,453.1 L547.0,457.3 L546.1,461.5 L545.1,465.6 L544.2,469.5 L543.3,473.2 L542.4,476.5 L541.7,479.3 L541.0,481.8 L540.4,483.9 L539.6,485.9 L538.5,487.9 L537.1,489.9 L535.2,492.0 L532.9,494.1 L530.4,496.1 L527.7,498.1 L524.9,499.9 L522.2,501.4 L519.5,502.7 L516.5,503.7 L513.5,504.5 L510.6,505.3 L507.9,506.1 L505.5,506.9 L503.5,507.9 L501.7,509.0 L500.1,510.0 L498.7,511.0 L497.4,511.8 L496.2,512.5 L495.1,512.9 L494.0,513.3 L493.1,513.6 L492.4,513.6 L491.9,513.5 L491.8,513.0 Z" fill="none" stroke="#2a2a2a" stroke-opacity="0.65" stroke-width="0.9"/>
<path d="M493.4,512.2 L493.6,511.7 L494.1,511.0 L494.7,509.9 L495.4,508.7 L496.1,507.3 L496.6,505.8 L497.1,504.1 L497.5,502.2 L497.8,500.1 L498.2,497.9 L498.4,495.7 L498.6,493.4 L498.7,491.2 L498.6,489.1 L498.4,486.8 L498.3,484.4 L498.4,481.7 L498.8,478.5 L499.6,474.8 L500.7,470.6 L501.9,466.1 L503.3,461.4 L504.6,456.7 L505.9,452.1 L507.1,447.5 L508.3,442.8 L509.4,438.0 L510.7,433.3 L512.0,428.7 L513.5,424.2 L515.2,419.8 L517.1,415.5 L519.0,411.2 L521.0,407.1 L523.0,403.3 L524.8,399.7 L526.5,396.5 L528.2,393.4 L529.8,390.5 L531.3,388.0 L532.9,385.7 L534.3,383.8 L535.7,382.3 L536.9,381.1 L538.1,380.2 L539.3,379.6 L540.5,379.2 L541.8,379.0 L543.1,379.0 L544.6,379.2 L546.0,379.6 L547.4,380.2 L548.7,381.0 L549.7,382.0 L550.5,383.1 L551.0,384.4 L551.4,385.9 L551.7,387.5 L552.0,389.3 L552.2,391.3 L552.4,393.5 L552.5,395.8 L552.6,398.3 L552.6,401.0 L552.6,403.7 L552.6,406.5 L552.6,409.3 L552.6,412.1 L552.7,415.0 L552.6,418.1 L552.4,421.5 L552.0,425.3 L551.4,429.6 L550.5,434.5 L549.5,439.7 L548.5,444.9 L547.4,449.8 L546.5,454.3 L545.6,458.3 L544.8,462.1 L544.1,465.6 L543.3,468.9 L542.4,472.1 L541.4,475.1 L540.4,477.9 L539.4,480.4 L538.4,482.8 L537.2,485.1 L535.8,487.2 L534.2,489.4 L532.2,491.6 L529.9,493.7 L527.4,495.8 L524.8,497.8 L522.2,499.6 L519.6,501.1 L516.9,502.2 L514.1,503.1 L511.2,503.8 L508.5,504.4 L505.9,505.0 L503.7,505.7 L501.8,506.4 L500.2,507.2 L498.8,508.0 L497.6,508.8 L496.5,509.5 L495.6,510.1 L494.8,510.6 L494.2,511.3 L493.8,511.8 L493.5,512.2 L493.4,512.4 L493.4,512.2 Z" fill="none" stroke="#2a2a2a" stroke-opacity="0.65" stroke-width="0.9"/>
<path d="M493.2,511.5 L493.5,511.3 L494.0,510.9 L494.7,510.4 L495.5,509.7 L496.3,508.8 L496.9,507.5 L497.4,505.7 L497.9,503.6 L498.4,501.1 L498.8,498.6 L499.2,496.1 L499.6,493.7 L500.0,491.8 L500.4,490.2 L500.7,488.6 L501.1,486.8 L501.5,484.5 L501.9,481.5 L502.4,477.5 L502.9,472.8 L503.5,467.6 L504.1,462.1 L504.9,456.8 L505.9,451.9 L507.1,447.2 L508.5,442.5 L510.1,438.0 L511.7,433.6 L513.4,429.3 L515.1,425.2 L516.9,421.3 L518.8,417.7 L520.7,414.2 L522.7,410.8 L524.5,407.4 L526.2,404.1 L527.8,400.7 L529.3,397.2 L530.6,393.7 L532.0,390.5 L533.3,387.6 L534.8,385.3 L536.4,383.5 L538.1,382.2 L539.8,381.2 L541.4,380.5 L542.9,380.2 L544.2,380.0 L545.2,380.2 L546.0,380.7 L546.6,381.4 L547.2,382.4 L547.7,383.5 L548.4,384.6 L549.2,385.7 L550.1,386.9 L551.0,388.1 L551.8,389.5 L552.5,391.2 L553.0,393.1 L553.2,395.3 L553.3,397.9 L553.1,400.7 L552.9,403.6 L552.7,406.5 L552.5,409.3 L552.3,411.7 L552.1,414.0 L551.9,416.3 L551.6,418.7 L551.2,421.5 L550.8,424.8 L550.1,428.7 L549.3,433.3 L548.4,438.1 L547.5,443.1 L546.7,447.9 L546.0,452.3 L545.7,456.5 L545.5,460.5 L545.5,464.4 L545.4,468.2 L545.1,471.7 L544.5,475.0 L543.6,478.1 L542.5,481.1 L541.1,483.8 L539.6,486.3 L537.9,488.6 L536.1,490.7 L533.9,492.5 L531.5,493.9 L528.8,495.1 L526.1,496.2 L523.4,497.3 L520.7,498.5 L518.1,499.9 L515.4,501.3 L512.7,502.7 L510.1,504.0 L507.6,505.2 L505.3,506.3 L503.2,507.2 L501.2,507.9 L499.3,508.5 L497.5,509.0 L496.1,509.5 L494.9,509.9 L494.0,510.4 L493.5,510.8 L493.1,511.2 L493.0,511.5 L493.0,511.6 L493.2,511.5 Z" fill="none" stroke="#2a2a2a" stroke-opacity="0.65" stroke-width="0.9"/>
<path d="M494.9,511.5 L495.2,511.2 L495.4,510.8 L495.6,510.1 L495.8,509.3 L496.0,508.2 L496.3,507.0 L496.4,505.6 L496.6,503.9 L496.7,502.0 L496.9,499.9 L497.2,497.8 L497.5,495.7 L497.9,493.7 L498.3,491.7 L498.8,489.6 L499.4,487.4 L500.1,484.8 L500.9,481.7 L501.8,478.1 L502.9,474.0 L504.1,469.5 L505.4,464.9 L506.6,460.1 L507.7,455.4 L508.6,450.7 L509.5,445.7 L510.3,440.7 L511.1,435.7 L512.1,430.9 L513.3,426.5 L514.8,422.5 L516.5,418.8 L518.3,415.3 L520.3,412.0 L522.2,408.7 L524.1,405.4 L526.0,401.9 L528.0,398.3 L530.0,394.7 L532.0,391.4 L533.8,388.4 L535.4,386.1 L536.7,384.4 L537.7,383.3 L538.5,382.6 L539.3,382.2 L540.3,382.0 L541.4,381.9 L542.9,381.9 L544.6,382.2 L546.5,382.6 L548.3,383.3 L549.8,384.1 L551.0,385.1 L551.7,386.4 L552.1,387.9 L552.3,389.7 L552.3,391.5 L552.3,393.5 L552.3,395.5 L552.3,397.6 L552.3,399.9 L552.1,402.2 L552.0,404.6 L551.9,407.0 L551.8,409.4 L551.8,411.6 L551.9,413.7 L552.0,415.7 L552.0,417.9 L551.9,420.6 L551.7,423.8 L551.2,427.8 L550.6,432.5 L549.9,437.6 L549.1,442.8 L548.3,447.8 L547.5,452.4 L546.8,456.6 L546.1,460.6 L545.3,464.5 L544.5,468.2 L543.6,471.7 L542.5,474.9 L541.2,477.8 L539.8,480.5 L538.3,482.9 L536.7,485.1 L535.0,487.2 L533.1,489.2 L531.1,491.0 L529.0,492.6 L526.8,494.1 L524.5,495.5 L522.1,496.8 L519.7,498.2 L517.2,499.6 L514.4,501.0 L511.6,502.3 L508.9,503.6 L506.3,504.8 L503.9,505.8 L501.7,506.5 L499.6,507.1 L497.7,507.6 L495.9,508.0 L494.5,508.4 L493.5,508.9 L493.1,509.4 L493.1,510.0 L493.5,510.6 L494.0,511.1 L494.6,511.5 L494.9,511.5 Z" fill="none" stroke="#2a2a2a" stroke-opacity="0.65" stroke-width="0.9"/>
<path d="M492.7,513.6 L493.2,512.9 L494.0,511.8 L495.1,510.4 L496.3,508.9 L497.2,507.2 L497.8,505.6 L497.9,503.9 L497.7,502.1 L497.3,500.3 L496.8,498.3 L496.6,496.3 L496.6,494.2 L496.9,492.3 L497.4,490.4 L498.0,488.4 L498.7,486.2 L499.5,483.7 L500.4,480.5 L501.3,476.7 L502.4,472.3 L503.5,467.5 L504.6,462.5 L505.8,457.5 L507.0,452.7 L508.2,448.1 L509.4,443.5 L510.6,438.9 L511.9,434.4 L513.2,430.0 L514.6,425.6 L516.0,421.4 L517.5,417.1 L519.1,413.0 L520.7,409.0 L522.3,405.1 L524.0,401.6 L525.9,398.1 L527.9,394.7 L530.0,391.6 L532.1,388.7 L534.0,386.2 L535.7,384.3 L537.1,383.0 L538.3,382.2 L539.3,381.9 L540.3,381.8 L541.3,381.9 L542.3,382.0 L543.4,382.1 L544.5,382.3 L545.5,382.7 L546.6,383.2 L547.6,383.9 L548.5,384.8 L549.5,385.8 L550.6,386.9 L551.6,388.3 L552.5,389.8 L553.2,391.4 L553.7,393.3 L553.7,395.4 L553.4,397.8 L552.9,400.4 L552.3,403.1 L551.8,405.7 L551.6,408.3 L551.7,410.7 L552.0,413.0 L552.5,415.2 L552.9,417.6 L553.0,420.5 L552.9,423.9 L552.3,428.0 L551.4,432.9 L550.4,438.1 L549.2,443.4 L548.1,448.6 L547.1,453.2 L546.4,457.3 L545.8,461.2 L545.3,464.9 L544.7,468.4 L544.0,471.7 L543.0,474.9 L541.7,477.8 L540.3,480.6 L538.7,483.2 L537.0,485.6 L535.2,487.8 L533.4,489.8 L531.7,491.6 L530.0,493.1 L528.2,494.4 L526.3,495.6 L524.2,496.9 L521.8,498.3 L518.9,499.9 L515.6,501.6 L512.0,503.3 L508.6,505.0 L505.4,506.5 L502.9,507.7 L501.1,508.7 L499.7,509.5 L498.6,510.1 L497.8,510.5 L497.0,511.0 L496.3,511.4 L495.4,512.0 L494.5,512.7 L493.8,513.2 L493.2,513.7 L492.8,513.8 L492.7,513.6 Z" fill="none" stroke="#2a2a2a" stroke-opacity="0.65" stroke-width="0.9"/>
<path d="M497.9,509.0 L498.1,507.1 L498.6,504.2 L499.4,500.6 L500.3,496.7 L501.2,492.8 L502.0,489.3 L502.7,486.1 L503.4,482.9 L504.1,479.8 L504.8,476.6 L505.6,473.5 L506.5,470.5 L507.5,467.4 L508.6,464.3 L509.7,461.3 L510.9,458.3 L511.9,455.4 L512.9,452.8 L513.7,450.4 L514.4,448.3 L515.1,446.4 L515.7,444.4 L516.4,442.3 L517.2,439.8 L518.1,437.0 L519.1,433.8 L520.1,430.5 L521.1,427.2 L522.2,423.9 L523.3,420.9 L524.5,418.0 L525.8,415.2 L527.1,412.5 L528.4,409.9 L529.7,407.7 L530.7,405.7 L531.5,404.3 L532.3,403.2 L532.9,402.4 L533.5,401.7 L534.0,401.1 L534.5,400.3 L535.0,399.6 L535.4,398.8 L535.7,398.1 L536.1,397.4 L536.5,396.8 L537.1,396.2 L537.8,395.5 L538.7,394.9 L539.7,394.3 L540.7,393.8 L541.6,393.5 L542.3,393.5 L542.9,393.9 L543.4,394.6 L543.9,395.5 L544.3,396.5 L544.6,397.6 L544.9,398.6 L545.2,399.4 L545.5,400.3 L545.8,401.1 L546.0,402.1 L546.1,403.2 L546.0,404.5 L545.7,406.0 L545.2,407.5 L544.6,409.1 L543.9,411.0 L543.4,413.3 L543.0,415.9 L542.9,419.1 L543.0,422.8 L543.1,426.8 L543.3,431.0 L543.2,435.0 L542.9,438.8 L542.2,442.4 L541.3,445.8 L540.2,449.1 L539.1,452.4 L537.9,455.7 L536.8,459.1 L535.8,462.5 L534.9,466.0 L534.0,469.5 L533.0,472.9 L531.9,476.2 L530.4,479.4 L528.6,482.4 L526.6,485.2 L524.4,488.0 L522.1,490.6 L519.7,493.1 L517.4,495.3 L514.8,497.2 L512.0,499.0 L509.2,500.6 L506.5,502.0 L504.0,503.3 L502.1,504.5 L500.7,505.8 L499.6,507.2 L498.8,508.5 L498.3,509.4 L498.0,509.7 L497.9,509.0 Z" fill="none" stroke="#2a2a2a" stroke-opacity="0.55" stroke-width="0.9"/>
<path d="M496.6,509.3 L497.0,507.4 L498.0,504.6 L499.2,501.1 L500.7,497.3 L502.1,493.5 L503.2,490.0 L504.2,486.8 L505.1,483.5 L505.9,480.2 L506.7,476.9 L507.6,473.7 L508.4,470.6 L509.4,467.6 L510.4,464.6 L511.4,461.7 L512.3,458.9 L513.2,456.1 L513.9,453.4 L514.4,450.9 L514.7,448.5 L514.9,446.1 L515.1,443.8 L515.5,441.3 L516.2,438.6 L517.2,435.6 L518.5,432.3 L520.0,429.0 L521.5,425.6 L523.0,422.4 L524.3,419.4 L525.4,416.6 L526.5,413.8 L527.5,411.2 L528.4,408.8 L529.3,406.6 L530.3,404.8 L531.2,403.4 L532.2,402.4 L533.2,401.6 L534.1,401.0 L534.9,400.5 L535.5,399.9 L536.0,399.2 L536.2,398.6 L536.3,398.1 L536.4,397.5 L536.5,397.0 L536.9,396.5 L537.4,395.9 L538.0,395.2 L538.7,394.5 L539.5,393.8 L540.2,393.4 L540.8,393.3 L541.4,393.4 L542.0,393.8 L542.6,394.3 L543.2,395.0 L543.6,395.9 L544.0,396.9 L544.1,398.1 L544.2,399.6 L544.2,401.3 L544.1,403.0 L544.1,404.6 L544.1,406.1 L544.2,407.2 L544.4,408.1 L544.6,408.9 L544.7,409.9 L544.8,411.4 L544.8,413.5 L544.7,416.6 L544.5,420.3 L544.2,424.5 L543.8,429.0 L543.4,433.4 L542.8,437.6 L542.2,441.6 L541.4,445.7 L540.5,449.7 L539.5,453.7 L538.5,457.6 L537.5,461.2 L536.5,464.6 L535.5,467.8 L534.5,470.8 L533.4,473.8 L532.0,476.6 L530.4,479.4 L528.3,482.2 L526.0,484.9 L523.4,487.5 L520.8,490.0 L518.1,492.4 L515.6,494.7 L513.2,496.8 L510.7,498.9 L508.2,500.8 L505.8,502.6 L503.7,504.2 L501.9,505.5 L500.4,506.8 L499.0,508.1 L498.0,509.3 L497.1,510.0 L496.7,510.1 L496.6,509.3 Z" fill="none" stroke="#2a2a2a" stroke-opacity="0.55" stroke-width="0.9"/>
<path d="M526.0,430.6 L526.1,429.4 L526.5,427.5 L527.1,425.2 L527.7,422.7 L528.4,420.2 L529.0,418.0 L529.6,415.9 L530.3,413.8 L530.9,411.8 L531.6,409.8 L532.3,407.8 L533.0,406.0 L533.7,404.2 L534.4,402.5 L535.2,400.8 L535.9,399.3 L536.6,398.0 L537.2,397.0 L537.8,396.3 L538.3,395.8 L538.8,395.5 L539.2,395.4 L539.6,395.4 L540.0,395.5 L540.4,395.7 L540.7,396.1 L541.1,396.5 L541.3,397.2 L541.5,398.0 L541.5,399.0 L541.3,400.3 L541.1,401.9 L540.7,403.6 L540.2,405.4 L539.6,407.3 L539.0,409.0 L538.3,410.7 L537.5,412.4 L536.7,414.1 L535.8,415.7 L534.9,417.4 L534.0,419.0 L533.1,420.6 L532.3,422.3 L531.4,424.0 L530.5,425.5 L529.7,426.9 L529.0,428.0 L528.3,429.0 L527.6,429.9 L527.0,430.6 L526.5,431.1 L526.1,431.1 L526.0,430.6 Z" fill="none" stroke="#2a2a2a" stroke-opacity="0.5" stroke-width="0.9"/>
<circle cx="165" cy="515" r="1.8" fill="#000"/>
<line x1="165" y1="514.5" x2="372.4" y2="373.8" stroke="#333" stroke-width="1.25" stroke-dasharray="9.5,5"/>
<line x1="165" y1="517.5" x2="464.4" y2="549.2" stroke="#333" stroke-width="1.25" stroke-dasharray="9.5,5"/>
</svg></body></html>
